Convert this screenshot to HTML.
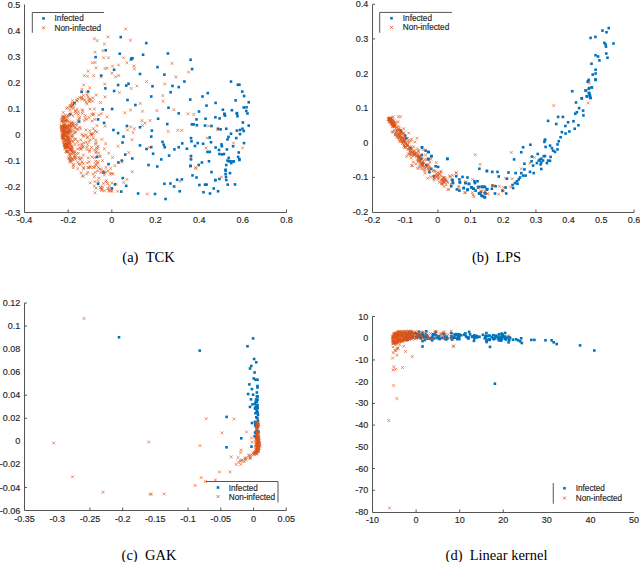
<!DOCTYPE html>
<html><head><meta charset="utf-8"><style>
html,body{margin:0;padding:0;background:#fff;width:640px;height:562px;overflow:hidden}
svg{display:block}
.s text{font-family:"Liberation Sans",sans-serif;font-size:9.0px;fill:#262626;stroke:#262626;stroke-width:0.15px}
.s text.lg{font-size:8.2px}
.c text{font-family:"Liberation Serif",serif;font-size:14.5px;fill:#000}
</style></head><body>
<svg width="640" height="562" viewBox="0 0 640 562">
<g class="s"><path d="M24.5 4.5V212.5H286.5" fill="none" stroke="#555555" stroke-width="1"/><text x="24.5" y="223" text-anchor="middle">-0.4</text><path d="M68.16666666666666 212.5V209.5" stroke="#555555" stroke-width="1"/><text x="68.16666666666666" y="223" text-anchor="middle">-0.2</text><path d="M111.83333333333333 212.5V209.5" stroke="#555555" stroke-width="1"/><text x="111.83333333333333" y="223" text-anchor="middle">0</text><text x="155.5" y="223" text-anchor="middle">0.2</text><text x="199.16666666666666" y="223" text-anchor="middle">0.4</text><text x="242.83333333333334" y="223" text-anchor="middle">0.6</text><path d="M286.5 212.5V209.5" stroke="#555555" stroke-width="1"/><text x="286.5" y="223" text-anchor="middle">0.8</text><text x="20.3" y="7.6" text-anchor="end">0.5</text><text x="20.3" y="33.6" text-anchor="end">0.4</text><text x="20.3" y="59.6" text-anchor="end">0.3</text><text x="20.3" y="85.6" text-anchor="end">0.2</text><text x="20.3" y="111.6" text-anchor="end">0.1</text><text x="20.3" y="137.6" text-anchor="end">0</text><text x="20.3" y="163.6" text-anchor="end">-0.1</text><text x="20.3" y="189.6" text-anchor="end">-0.2</text><text x="20.3" y="215.6" text-anchor="end">-0.3</text><path d="M372.5 4.5V212.5H634" fill="none" stroke="#555555" stroke-width="1"/><text x="372.5" y="223" text-anchor="middle">-0.2</text><text x="405.1875" y="223" text-anchor="middle">-0.1</text><path d="M437.875 212.5V209.5" stroke="#555555" stroke-width="1"/><text x="437.875" y="223" text-anchor="middle">0</text><path d="M470.5625 212.5V209.5" stroke="#555555" stroke-width="1"/><text x="470.5625" y="223" text-anchor="middle">0.1</text><text x="503.25" y="223" text-anchor="middle">0.2</text><path d="M535.9375 212.5V209.5" stroke="#555555" stroke-width="1"/><text x="535.9375" y="223" text-anchor="middle">0.3</text><text x="568.625" y="223" text-anchor="middle">0.4</text><text x="601.3125" y="223" text-anchor="middle">0.5</text><path d="M634.0 212.5V209.5" stroke="#555555" stroke-width="1"/><text x="634.0" y="223" text-anchor="middle">0.6</text><path d="M372.5 4.25H375.0" stroke="#555555" stroke-width="1"/><text x="368.3" y="7.35" text-anchor="end">0.4</text><path d="M372.5 38.875H375.0" stroke="#555555" stroke-width="1"/><text x="368.3" y="41.975" text-anchor="end">0.3</text><text x="368.3" y="76.6" text-anchor="end">0.2</text><text x="368.3" y="111.225" text-anchor="end">0.1</text><text x="368.3" y="145.85" text-anchor="end">0</text><path d="M372.5 177.375H375.0" stroke="#555555" stroke-width="1"/><text x="368.3" y="180.475" text-anchor="end">-0.1</text><text x="368.3" y="215.1" text-anchor="end">-0.2</text><path d="M24.5 303V510.5H286.25" fill="none" stroke="#555555" stroke-width="1"/><text x="24.5" y="521.5" text-anchor="middle">-0.35</text><text x="57.21875" y="521.5" text-anchor="middle">-0.3</text><path d="M89.9375 510.5V507.5" stroke="#555555" stroke-width="1"/><text x="89.9375" y="521.5" text-anchor="middle">-0.25</text><path d="M122.65625 510.5V507.5" stroke="#555555" stroke-width="1"/><text x="122.65625" y="521.5" text-anchor="middle">-0.2</text><text x="155.375" y="521.5" text-anchor="middle">-0.15</text><path d="M188.09375 510.5V507.5" stroke="#555555" stroke-width="1"/><text x="188.09375" y="521.5" text-anchor="middle">-0.1</text><path d="M220.8125 510.5V507.5" stroke="#555555" stroke-width="1"/><text x="220.8125" y="521.5" text-anchor="middle">-0.05</text><path d="M253.53125 510.5V507.5" stroke="#555555" stroke-width="1"/><text x="253.53125" y="521.5" text-anchor="middle">0</text><path d="M286.25 510.5V507.5" stroke="#555555" stroke-width="1"/><text x="286.25" y="521.5" text-anchor="middle">0.05</text><path d="M24.5 303.0H27.0" stroke="#555555" stroke-width="1"/><text x="20.3" y="306.1" text-anchor="end">0.12</text><path d="M24.5 326.05555555555554H27.0" stroke="#555555" stroke-width="1"/><text x="20.3" y="329.15555555555557" text-anchor="end">0.1</text><text x="20.3" y="352.2111111111111" text-anchor="end">0.08</text><text x="20.3" y="375.2666666666667" text-anchor="end">0.06</text><path d="M24.5 395.22222222222223H27.0" stroke="#555555" stroke-width="1"/><text x="20.3" y="398.32222222222225" text-anchor="end">0.04</text><path d="M24.5 418.27777777777777H27.0" stroke="#555555" stroke-width="1"/><text x="20.3" y="421.3777777777778" text-anchor="end">0.02</text><text x="20.3" y="444.4333333333334" text-anchor="end">0</text><text x="20.3" y="467.48888888888894" text-anchor="end">-0.02</text><path d="M24.5 487.44444444444446H27.0" stroke="#555555" stroke-width="1"/><text x="20.3" y="490.5444444444445" text-anchor="end">-0.04</text><text x="20.3" y="513.6" text-anchor="end">-0.06</text><path d="M372.5 316.5V512.5H634" fill="none" stroke="#555555" stroke-width="1"/><text x="372.5" y="523.2" text-anchor="middle">-10</text><path d="M416.0833333333333 512.5V509.5" stroke="#555555" stroke-width="1"/><text x="416.0833333333333" y="523.2" text-anchor="middle">0</text><path d="M459.6666666666667 512.5V509.5" stroke="#555555" stroke-width="1"/><text x="459.6666666666667" y="523.2" text-anchor="middle">10</text><path d="M503.25 512.5V509.5" stroke="#555555" stroke-width="1"/><text x="503.25" y="523.2" text-anchor="middle">20</text><text x="546.8333333333334" y="523.2" text-anchor="middle">30</text><text x="590.4166666666666" y="523.2" text-anchor="middle">40</text><text x="634.0" y="523.2" text-anchor="middle">50</text><path d="M372.5 316.5H375.0" stroke="#555555" stroke-width="1"/><text x="368.3" y="319.6" text-anchor="end">10</text><text x="368.3" y="341.32222222222225" text-anchor="end">0</text><path d="M372.5 359.94444444444446H375.0" stroke="#555555" stroke-width="1"/><text x="368.3" y="363.0444444444445" text-anchor="end">-10</text><text x="368.3" y="384.7666666666667" text-anchor="end">-20</text><path d="M372.5 403.3888888888889H375.0" stroke="#555555" stroke-width="1"/><text x="368.3" y="406.48888888888894" text-anchor="end">-30</text><path d="M372.5 425.1111111111111H375.0" stroke="#555555" stroke-width="1"/><text x="368.3" y="428.2111111111111" text-anchor="end">-40</text><text x="368.3" y="449.9333333333334" text-anchor="end">-50</text><path d="M372.5 468.55555555555554H375.0" stroke="#555555" stroke-width="1"/><text x="368.3" y="471.65555555555557" text-anchor="end">-60</text><path d="M372.5 490.27777777777777H375.0" stroke="#555555" stroke-width="1"/><text x="368.3" y="493.3777777777778" text-anchor="end">-70</text><text x="368.3" y="515.1" text-anchor="end">-80</text><g fill="#0072BD"><rect x="119.45" y="35.80" width="2.6" height="2.6"/><rect x="104.45" y="48.95" width="2.6" height="2.6"/><rect x="94.30" y="55.80" width="2.6" height="2.6"/><rect x="118.45" y="52.45" width="2.6" height="2.6"/><rect x="130.20" y="57.10" width="2.6" height="2.6"/><rect x="144.95" y="41.80" width="2.6" height="2.6"/><rect x="141.80" y="53.45" width="2.6" height="2.6"/><rect x="166.60" y="52.20" width="2.6" height="2.6"/><rect x="189.30" y="58.45" width="2.6" height="2.6"/><rect x="112.80" y="68.45" width="2.6" height="2.6"/><rect x="99.95" y="74.30" width="2.6" height="2.6"/><rect x="116.80" y="83.70" width="2.6" height="2.6"/><rect x="104.10" y="87.10" width="2.6" height="2.6"/><rect x="112.80" y="89.70" width="2.6" height="2.6"/><rect x="80.30" y="90.60" width="2.6" height="2.6"/><rect x="86.80" y="90.20" width="2.6" height="2.6"/><rect x="73.10" y="101.60" width="2.6" height="2.6"/><rect x="101.45" y="108.10" width="2.6" height="2.6"/><rect x="110.80" y="107.70" width="2.6" height="2.6"/><rect x="68.70" y="113.10" width="2.6" height="2.6"/><rect x="129.70" y="58.20" width="2.6" height="2.6"/><rect x="131.20" y="56.90" width="2.6" height="2.6"/><rect x="156.20" y="65.80" width="2.6" height="2.6"/><rect x="190.80" y="67.80" width="2.6" height="2.6"/><rect x="138.70" y="72.70" width="2.6" height="2.6"/><rect x="163.10" y="73.30" width="2.6" height="2.6"/><rect x="183.10" y="80.20" width="2.6" height="2.6"/><rect x="124.95" y="84.30" width="2.6" height="2.6"/><rect x="127.20" y="82.45" width="2.6" height="2.6"/><rect x="151.20" y="84.95" width="2.6" height="2.6"/><rect x="171.20" y="84.60" width="2.6" height="2.6"/><rect x="177.45" y="85.80" width="2.6" height="2.6"/><rect x="169.30" y="90.95" width="2.6" height="2.6"/><rect x="149.95" y="95.20" width="2.6" height="2.6"/><rect x="126.20" y="98.70" width="2.6" height="2.6"/><rect x="188.95" y="98.30" width="2.6" height="2.6"/><rect x="134.10" y="103.70" width="2.6" height="2.6"/><rect x="167.20" y="106.45" width="2.6" height="2.6"/><rect x="177.45" y="112.10" width="2.6" height="2.6"/><rect x="197.70" y="110.20" width="2.6" height="2.6"/><rect x="229.70" y="80.30" width="2.6" height="2.6"/><rect x="236.60" y="83.45" width="2.6" height="2.6"/><rect x="238.10" y="83.45" width="2.6" height="2.6"/><rect x="240.95" y="90.30" width="2.6" height="2.6"/><rect x="206.45" y="91.80" width="2.6" height="2.6"/><rect x="201.20" y="95.20" width="2.6" height="2.6"/><rect x="242.80" y="94.70" width="2.6" height="2.6"/><rect x="234.30" y="99.10" width="2.6" height="2.6"/><rect x="247.45" y="100.95" width="2.6" height="2.6"/><rect x="214.30" y="101.60" width="2.6" height="2.6"/><rect x="205.20" y="104.30" width="2.6" height="2.6"/><rect x="242.45" y="106.20" width="2.6" height="2.6"/><rect x="245.20" y="105.95" width="2.6" height="2.6"/><rect x="221.60" y="108.45" width="2.6" height="2.6"/><rect x="230.60" y="108.95" width="2.6" height="2.6"/><rect x="244.95" y="109.70" width="2.6" height="2.6"/><rect x="223.10" y="112.45" width="2.6" height="2.6"/><rect x="235.60" y="111.80" width="2.6" height="2.6"/><rect x="246.20" y="112.20" width="2.6" height="2.6"/><rect x="77.80" y="120.30" width="2.6" height="2.6"/><rect x="96.80" y="118.10" width="2.6" height="2.6"/><rect x="102.80" y="121.60" width="2.6" height="2.6"/><rect x="112.10" y="128.70" width="2.6" height="2.6"/><rect x="116.80" y="131.80" width="2.6" height="2.6"/><rect x="95.60" y="155.60" width="2.6" height="2.6"/><rect x="107.20" y="162.80" width="2.6" height="2.6"/><rect x="117.10" y="161.20" width="2.6" height="2.6"/><rect x="156.80" y="117.45" width="2.6" height="2.6"/><rect x="165.95" y="122.80" width="2.6" height="2.6"/><rect x="195.20" y="118.10" width="2.6" height="2.6"/><rect x="190.60" y="123.10" width="2.6" height="2.6"/><rect x="192.45" y="123.10" width="2.6" height="2.6"/><rect x="195.60" y="123.95" width="2.6" height="2.6"/><rect x="125.60" y="124.70" width="2.6" height="2.6"/><rect x="138.70" y="125.95" width="2.6" height="2.6"/><rect x="150.60" y="129.30" width="2.6" height="2.6"/><rect x="149.95" y="135.30" width="2.6" height="2.6"/><rect x="122.20" y="135.30" width="2.6" height="2.6"/><rect x="121.20" y="141.20" width="2.6" height="2.6"/><rect x="189.70" y="136.80" width="2.6" height="2.6"/><rect x="190.20" y="139.95" width="2.6" height="2.6"/><rect x="161.20" y="140.60" width="2.6" height="2.6"/><rect x="162.45" y="143.45" width="2.6" height="2.6"/><rect x="163.45" y="145.95" width="2.6" height="2.6"/><rect x="180.95" y="142.10" width="2.6" height="2.6"/><rect x="196.45" y="141.80" width="2.6" height="2.6"/><rect x="138.70" y="144.10" width="2.6" height="2.6"/><rect x="149.95" y="145.80" width="2.6" height="2.6"/><rect x="145.20" y="147.70" width="2.6" height="2.6"/><rect x="177.45" y="145.95" width="2.6" height="2.6"/><rect x="173.10" y="148.10" width="2.6" height="2.6"/><rect x="185.60" y="147.45" width="2.6" height="2.6"/><rect x="193.70" y="144.70" width="2.6" height="2.6"/><rect x="151.80" y="152.45" width="2.6" height="2.6"/><rect x="123.95" y="153.30" width="2.6" height="2.6"/><rect x="130.95" y="157.20" width="2.6" height="2.6"/><rect x="167.80" y="154.30" width="2.6" height="2.6"/><rect x="159.95" y="158.10" width="2.6" height="2.6"/><rect x="189.70" y="154.70" width="2.6" height="2.6"/><rect x="189.70" y="158.10" width="2.6" height="2.6"/><rect x="120.60" y="159.30" width="2.6" height="2.6"/><rect x="147.20" y="163.70" width="2.6" height="2.6"/><rect x="155.95" y="165.20" width="2.6" height="2.6"/><rect x="189.30" y="164.60" width="2.6" height="2.6"/><rect x="197.45" y="163.70" width="2.6" height="2.6"/><rect x="223.10" y="113.10" width="2.6" height="2.6"/><rect x="223.70" y="114.30" width="2.6" height="2.6"/><rect x="235.60" y="112.45" width="2.6" height="2.6"/><rect x="236.20" y="114.95" width="2.6" height="2.6"/><rect x="204.30" y="117.45" width="2.6" height="2.6"/><rect x="214.10" y="115.95" width="2.6" height="2.6"/><rect x="218.30" y="117.10" width="2.6" height="2.6"/><rect x="241.60" y="121.20" width="2.6" height="2.6"/><rect x="247.45" y="124.30" width="2.6" height="2.6"/><rect x="203.70" y="124.30" width="2.6" height="2.6"/><rect x="210.20" y="124.70" width="2.6" height="2.6"/><rect x="216.80" y="127.45" width="2.6" height="2.6"/><rect x="219.30" y="128.10" width="2.6" height="2.6"/><rect x="224.95" y="127.45" width="2.6" height="2.6"/><rect x="235.60" y="129.30" width="2.6" height="2.6"/><rect x="238.70" y="128.70" width="2.6" height="2.6"/><rect x="241.20" y="127.45" width="2.6" height="2.6"/><rect x="242.45" y="129.70" width="2.6" height="2.6"/><rect x="229.70" y="132.45" width="2.6" height="2.6"/><rect x="238.70" y="132.80" width="2.6" height="2.6"/><rect x="227.20" y="135.60" width="2.6" height="2.6"/><rect x="226.20" y="138.10" width="2.6" height="2.6"/><rect x="234.95" y="136.80" width="2.6" height="2.6"/><rect x="208.45" y="136.20" width="2.6" height="2.6"/><rect x="209.70" y="140.95" width="2.6" height="2.6"/><rect x="201.80" y="142.45" width="2.6" height="2.6"/><rect x="220.20" y="143.10" width="2.6" height="2.6"/><rect x="220.60" y="144.95" width="2.6" height="2.6"/><rect x="242.70" y="141.80" width="2.6" height="2.6"/><rect x="231.80" y="144.95" width="2.6" height="2.6"/><rect x="214.30" y="146.20" width="2.6" height="2.6"/><rect x="225.60" y="148.10" width="2.6" height="2.6"/><rect x="217.70" y="148.70" width="2.6" height="2.6"/><rect x="206.20" y="150.60" width="2.6" height="2.6"/><rect x="208.45" y="150.60" width="2.6" height="2.6"/><rect x="237.45" y="151.20" width="2.6" height="2.6"/><rect x="218.10" y="152.70" width="2.6" height="2.6"/><rect x="220.60" y="153.10" width="2.6" height="2.6"/><rect x="222.70" y="152.70" width="2.6" height="2.6"/><rect x="236.80" y="155.60" width="2.6" height="2.6"/><rect x="238.10" y="157.80" width="2.6" height="2.6"/><rect x="227.45" y="156.60" width="2.6" height="2.6"/><rect x="226.20" y="159.30" width="2.6" height="2.6"/><rect x="227.45" y="159.95" width="2.6" height="2.6"/><rect x="232.20" y="159.95" width="2.6" height="2.6"/><rect x="229.95" y="161.80" width="2.6" height="2.6"/><rect x="207.70" y="159.95" width="2.6" height="2.6"/><rect x="200.60" y="161.20" width="2.6" height="2.6"/><rect x="224.95" y="163.70" width="2.6" height="2.6"/><rect x="224.30" y="168.45" width="2.6" height="2.6"/><rect x="102.20" y="171.20" width="2.6" height="2.6"/><rect x="121.45" y="176.80" width="2.6" height="2.6"/><rect x="96.80" y="182.45" width="2.6" height="2.6"/><rect x="113.70" y="183.10" width="2.6" height="2.6"/><rect x="124.95" y="184.60" width="2.6" height="2.6"/><rect x="110.60" y="187.10" width="2.6" height="2.6"/><rect x="119.95" y="190.30" width="2.6" height="2.6"/><rect x="136.80" y="192.20" width="2.6" height="2.6"/><rect x="189.10" y="164.70" width="2.6" height="2.6"/><rect x="210.20" y="170.80" width="2.6" height="2.6"/><rect x="191.20" y="174.10" width="2.6" height="2.6"/><rect x="195.20" y="176.20" width="2.6" height="2.6"/><rect x="175.80" y="178.45" width="2.6" height="2.6"/><rect x="180.60" y="178.10" width="2.6" height="2.6"/><rect x="163.10" y="182.45" width="2.6" height="2.6"/><rect x="169.10" y="182.20" width="2.6" height="2.6"/><rect x="172.80" y="185.20" width="2.6" height="2.6"/><rect x="178.45" y="189.95" width="2.6" height="2.6"/><rect x="153.70" y="192.70" width="2.6" height="2.6"/><rect x="164.30" y="197.70" width="2.6" height="2.6"/><rect x="198.10" y="183.70" width="2.6" height="2.6"/><rect x="203.70" y="183.30" width="2.6" height="2.6"/><rect x="205.30" y="183.30" width="2.6" height="2.6"/><rect x="214.10" y="178.95" width="2.6" height="2.6"/><rect x="218.10" y="177.70" width="2.6" height="2.6"/><rect x="202.20" y="190.95" width="2.6" height="2.6"/><rect x="208.70" y="192.20" width="2.6" height="2.6"/><rect x="212.45" y="187.20" width="2.6" height="2.6"/><rect x="216.80" y="189.95" width="2.6" height="2.6"/><rect x="229.30" y="159.95" width="2.6" height="2.6"/><rect x="232.45" y="160.20" width="2.6" height="2.6"/><rect x="238.10" y="158.70" width="2.6" height="2.6"/><rect x="224.30" y="169.30" width="2.6" height="2.6"/><rect x="228.70" y="171.80" width="2.6" height="2.6"/><rect x="224.30" y="172.70" width="2.6" height="2.6"/><rect x="224.70" y="175.60" width="2.6" height="2.6"/><rect x="224.95" y="178.70" width="2.6" height="2.6"/><rect x="213.95" y="178.70" width="2.6" height="2.6"/><rect x="226.45" y="183.30" width="2.6" height="2.6"/><rect x="233.70" y="183.10" width="2.6" height="2.6"/></g><path fill="none" stroke="#D95319" stroke-width="0.62" d="M72.22 150.30L75.12 153.20M72.22 153.20L75.12 150.30M64.91 134.41L67.81 137.31M64.91 137.31L67.81 134.41M60.25 119.35L63.15 122.25M60.25 122.25L63.15 119.35M67.86 120.26L70.76 123.16M67.86 123.16L70.76 120.26M61.63 136.14L64.53 139.04M61.63 139.04L64.53 136.14M66.68 140.65L69.58 143.55M66.68 143.55L69.58 140.65M60.98 133.62L63.88 136.52M60.98 136.52L63.88 133.62M63.71 113.97L66.61 116.87M63.71 116.87L66.61 113.97M74.20 137.72L77.10 140.62M74.20 140.62L77.10 137.72M61.69 136.19L64.59 139.09M61.69 139.09L64.59 136.19M65.05 149.58L67.95 152.48M65.05 152.48L67.95 149.58M64.80 145.37L67.70 148.27M64.80 148.27L67.70 145.37M66.55 136.39L69.45 139.29M66.55 139.29L69.45 136.39M62.83 142.60L65.73 145.50M62.83 145.50L65.73 142.60M62.51 119.48L65.41 122.38M62.51 122.38L65.41 119.48M64.69 134.55L67.59 137.45M64.69 137.45L67.59 134.55M66.90 136.36L69.80 139.26M66.90 139.26L69.80 136.36M61.66 132.88L64.56 135.78M61.66 135.78L64.56 132.88M68.01 142.22L70.91 145.12M68.01 145.12L70.91 142.22M62.81 128.33L65.71 131.23M62.81 131.23L65.71 128.33M68.48 159.30L71.38 162.20M68.48 162.20L71.38 159.30M65.39 142.03L68.29 144.93M65.39 144.93L68.29 142.03M68.76 129.90L71.66 132.80M68.76 132.80L71.66 129.90M65.20 146.09L68.10 148.99M65.20 148.99L68.10 146.09M69.37 142.88L72.27 145.78M69.37 145.78L72.27 142.88M66.92 127.86L69.82 130.76M66.92 130.76L69.82 127.86M72.15 152.15L75.05 155.05M72.15 155.05L75.05 152.15M60.71 116.22L63.61 119.12M60.71 119.12L63.61 116.22M63.10 143.02L66.00 145.92M63.10 145.92L66.00 143.02M66.48 137.50L69.38 140.40M66.48 140.40L69.38 137.50M67.92 141.18L70.82 144.08M67.92 144.08L70.82 141.18M67.90 127.89L70.80 130.79M67.90 130.79L70.80 127.89M63.75 123.69L66.65 126.59M63.75 126.59L66.65 123.69M61.79 111.01L64.69 113.91M61.79 113.91L64.69 111.01M60.63 120.67L63.53 123.57M60.63 123.57L63.53 120.67M60.36 130.37L63.26 133.27M60.36 133.27L63.26 130.37M67.67 153.07L70.57 155.97M67.67 155.97L70.57 153.07M65.26 150.89L68.16 153.79M65.26 153.79L68.16 150.89M62.04 127.32L64.94 130.22M62.04 130.22L64.94 127.32M61.44 133.03L64.34 135.93M61.44 135.93L64.34 133.03M62.86 117.49L65.76 120.39M62.86 120.39L65.76 117.49M73.37 126.28L76.27 129.18M73.37 129.18L76.27 126.28M65.70 130.78L68.60 133.68M65.70 133.68L68.60 130.78M60.73 126.78L63.63 129.68M60.73 129.68L63.63 126.78M64.62 149.81L67.52 152.71M64.62 152.71L67.52 149.81M62.72 133.18L65.62 136.08M62.72 136.08L65.62 133.18M69.92 149.67L72.82 152.57M69.92 152.57L72.82 149.67M67.52 139.26L70.42 142.16M67.52 142.16L70.42 139.26M62.07 120.86L64.97 123.76M62.07 123.76L64.97 120.86M71.25 158.19L74.15 161.09M71.25 161.09L74.15 158.19M61.34 125.70L64.24 128.60M61.34 128.60L64.24 125.70M60.36 118.58L63.26 121.48M60.36 121.48L63.26 118.58M63.79 126.10L66.69 129.00M63.79 129.00L66.69 126.10M62.35 115.91L65.25 118.81M62.35 118.81L65.25 115.91M63.62 122.60L66.52 125.50M63.62 125.50L66.52 122.60M62.86 142.80L65.76 145.70M62.86 145.70L65.76 142.80M68.32 141.16L71.22 144.06M68.32 144.06L71.22 141.16M71.08 148.49L73.98 151.39M71.08 151.39L73.98 148.49M71.31 140.53L74.21 143.43M71.31 143.43L74.21 140.53M71.08 132.72L73.98 135.62M71.08 135.62L73.98 132.72M62.38 131.03L65.28 133.93M62.38 133.93L65.28 131.03M60.95 135.76L63.85 138.66M60.95 138.66L63.85 135.76M64.82 133.90L67.72 136.80M64.82 136.80L67.72 133.90M68.21 147.61L71.11 150.51M68.21 150.51L71.11 147.61M62.05 130.79L64.95 133.69M62.05 133.69L64.95 130.79M67.68 142.11L70.58 145.01M67.68 145.01L70.58 142.11M65.00 138.66L67.90 141.56M65.00 141.56L67.90 138.66M66.13 130.13L69.03 133.03M66.13 133.03L69.03 130.13M65.54 127.11L68.44 130.01M65.54 130.01L68.44 127.11M63.80 146.26L66.70 149.16M63.80 149.16L66.70 146.26M61.52 126.17L64.42 129.07M61.52 129.07L64.42 126.17M73.65 155.17L76.55 158.07M73.65 158.07L76.55 155.17M59.91 124.66L62.81 127.56M59.91 127.56L62.81 124.66M66.90 114.68L69.80 117.58M66.90 117.58L69.80 114.68M61.01 136.00L63.91 138.90M61.01 138.90L63.91 136.00M69.93 146.09L72.83 148.99M69.93 148.99L72.83 146.09M69.81 144.40L72.71 147.30M69.81 147.30L72.71 144.40M66.07 126.44L68.97 129.34M66.07 129.34L68.97 126.44M76.24 140.06L79.14 142.96M76.24 142.96L79.14 140.06M67.45 138.19L70.35 141.09M67.45 141.09L70.35 138.19M68.79 136.70L71.69 139.60M68.79 139.60L71.69 136.70M64.40 120.10L67.30 123.00M64.40 123.00L67.30 120.10M66.77 125.60L69.67 128.50M66.77 128.50L69.67 125.60M64.07 143.76L66.97 146.66M64.07 146.66L66.97 143.76M70.36 159.55L73.26 162.45M70.36 162.45L73.26 159.55M69.87 124.63L72.77 127.53M69.87 127.53L72.77 124.63M71.82 122.16L74.72 125.06M71.82 125.06L74.72 122.16M66.26 133.03L69.16 135.93M66.26 135.93L69.16 133.03M61.33 133.52L64.23 136.42M61.33 136.42L64.23 133.52M61.95 136.16L64.85 139.06M61.95 139.06L64.85 136.16M76.08 147.61L78.98 150.51M76.08 150.51L78.98 147.61M61.29 126.34L64.19 129.24M61.29 129.24L64.19 126.34M77.97 157.21L80.87 160.11M77.97 160.11L80.87 157.21M66.43 129.13L69.33 132.03M66.43 132.03L69.33 129.13M63.22 124.91L66.12 127.81M63.22 127.81L66.12 124.91M69.15 138.89L72.05 141.79M69.15 141.79L72.05 138.89M61.26 125.76L64.16 128.66M61.26 128.66L64.16 125.76M68.62 148.80L71.52 151.70M68.62 151.70L71.52 148.80M66.36 129.18L69.26 132.08M66.36 132.08L69.26 129.18M69.72 121.54L72.62 124.44M69.72 124.44L72.62 121.54M61.45 135.56L64.35 138.46M61.45 138.46L64.35 135.56M65.66 137.07L68.56 139.97M65.66 139.97L68.56 137.07M67.39 156.19L70.29 159.09M67.39 159.09L70.29 156.19M63.33 128.77L66.23 131.67M63.33 131.67L66.23 128.77M69.05 122.22L71.95 125.12M69.05 125.12L71.95 122.22M64.64 144.42L67.54 147.32M64.64 147.32L67.54 144.42M69.11 148.20L72.01 151.10M69.11 151.10L72.01 148.20M61.86 137.23L64.76 140.13M61.86 140.13L64.76 137.23M68.76 154.36L71.66 157.26M68.76 157.26L71.66 154.36M64.27 137.57L67.17 140.47M64.27 140.47L67.17 137.57M60.53 128.78L63.43 131.68M60.53 131.68L63.43 128.78M63.35 115.98L66.25 118.88M63.35 118.88L66.25 115.98M62.06 123.08L64.96 125.98M62.06 125.98L64.96 123.08M67.17 142.65L70.07 145.55M67.17 145.55L70.07 142.65M70.96 120.46L73.86 123.36M70.96 123.36L73.86 120.46M64.39 125.86L67.29 128.76M64.39 128.76L67.29 125.86M64.15 145.92L67.05 148.82M64.15 148.82L67.05 145.92M70.74 135.79L73.64 138.69M70.74 138.69L73.64 135.79M65.18 145.12L68.08 148.02M65.18 148.02L68.08 145.12M65.98 123.84L68.88 126.74M65.98 126.74L68.88 123.84M66.14 136.07L69.04 138.97M66.14 138.97L69.04 136.07M61.41 125.20L64.31 128.10M61.41 128.10L64.31 125.20M64.22 142.47L67.12 145.37M64.22 145.37L67.12 142.47M67.56 146.52L70.46 149.42M67.56 149.42L70.46 146.52M65.79 146.37L68.69 149.27M65.79 149.27L68.69 146.37M69.73 129.66L72.63 132.56M69.73 132.56L72.63 129.66M61.49 134.51L64.39 137.41M61.49 137.41L64.39 134.51M62.44 130.82L65.34 133.72M62.44 133.72L65.34 130.82M73.23 153.82L76.13 156.72M73.23 156.72L76.13 153.82M63.20 142.87L66.10 145.77M63.20 145.77L66.10 142.87M63.63 147.10L66.53 150.00M63.63 150.00L66.53 147.10M63.57 139.43L66.47 142.33M63.57 142.33L66.47 139.43M69.81 134.71L72.71 137.61M69.81 137.61L72.71 134.71M73.96 156.37L76.86 159.27M73.96 159.27L76.86 156.37M70.96 157.42L73.86 160.32M70.96 160.32L73.86 157.42M60.13 127.69L63.03 130.59M60.13 130.59L63.03 127.69M69.96 148.35L72.86 151.25M69.96 151.25L72.86 148.35M63.39 144.67L66.29 147.57M63.39 147.57L66.29 144.67M65.24 134.02L68.14 136.92M65.24 136.92L68.14 134.02M65.43 132.36L68.33 135.26M65.43 135.26L68.33 132.36M60.52 125.45L63.42 128.35M60.52 128.35L63.42 125.45M73.53 137.87L76.43 140.77M73.53 140.77L76.43 137.87M63.15 115.74L66.05 118.64M63.15 118.64L66.05 115.74M62.14 132.36L65.04 135.26M62.14 135.26L65.04 132.36M71.42 151.15L74.32 154.05M71.42 154.05L74.32 151.15M63.47 131.51L66.37 134.41M63.47 134.41L66.37 131.51M60.91 115.83L63.81 118.73M60.91 118.73L63.81 115.83M65.49 149.76L68.39 152.66M65.49 152.66L68.39 149.76M66.04 142.70L68.94 145.60M66.04 145.60L68.94 142.70M67.15 138.71L70.05 141.61M67.15 141.61L70.05 138.71M65.02 132.07L67.92 134.97M65.02 134.97L67.92 132.07M65.30 118.31L68.20 121.21M65.30 121.21L68.20 118.31M61.82 128.84L64.72 131.74M61.82 131.74L64.72 128.84M66.89 144.40L69.79 147.30M66.89 147.30L69.79 144.40M70.42 156.56L73.32 159.46M70.42 159.46L73.32 156.56M63.37 126.70L66.27 129.60M63.37 129.60L66.27 126.70M69.84 147.61L72.74 150.51M69.84 150.51L72.74 147.61M59.76 125.22L62.66 128.12M59.76 128.12L62.66 125.22M60.98 136.19L63.88 139.09M60.98 139.09L63.88 136.19M63.16 138.58L66.06 141.48M63.16 141.48L66.06 138.58M67.41 131.97L70.31 134.87M67.41 134.87L70.31 131.97M64.44 141.95L67.34 144.85M64.44 144.85L67.34 141.95M77.42 155.84L80.32 158.74M77.42 158.74L80.32 155.84M64.41 134.65L67.31 137.55M64.41 137.55L67.31 134.65M63.60 146.19L66.50 149.09M63.60 149.09L66.50 146.19M63.30 128.55L66.20 131.45M63.30 131.45L66.20 128.55M62.96 131.04L65.86 133.94M62.96 133.94L65.86 131.04M65.49 138.51L68.39 141.41M65.49 141.41L68.39 138.51M67.00 145.78L69.90 148.68M67.00 148.68L69.90 145.78M64.45 143.02L67.35 145.92M64.45 145.92L67.35 143.02M63.19 139.19L66.09 142.09M63.19 142.09L66.09 139.19M61.66 136.34L64.56 139.24M61.66 139.24L64.56 136.34M70.59 122.22L73.49 125.12M70.59 125.12L73.49 122.22M73.52 142.96L76.42 145.86M73.52 145.86L76.42 142.96M70.41 145.17L73.31 148.07M70.41 148.07L73.31 145.17M63.49 130.53L66.39 133.43M63.49 133.43L66.39 130.53M61.20 126.60L64.10 129.50M61.20 129.50L64.10 126.60M68.13 129.32L71.03 132.22M68.13 132.22L71.03 129.32M62.62 133.47L65.52 136.37M62.62 136.37L65.52 133.47M69.03 156.55L71.93 159.45M69.03 159.45L71.93 156.55M62.32 118.09L65.22 120.99M62.32 120.99L65.22 118.09M66.85 142.04L69.75 144.94M66.85 144.94L69.75 142.04M62.66 124.18L65.56 127.08M62.66 127.08L65.56 124.18M61.82 133.41L64.72 136.31M61.82 136.31L64.72 133.41M64.29 125.37L67.19 128.27M64.29 128.27L67.19 125.37M61.01 129.34L63.91 132.24M61.01 132.24L63.91 129.34M62.52 129.20L65.42 132.10M62.52 132.10L65.42 129.20M64.67 140.66L67.57 143.56M64.67 143.56L67.57 140.66M66.32 139.78L69.22 142.68M66.32 142.68L69.22 139.78M64.53 119.00L67.43 121.90M64.53 121.90L67.43 119.00M61.30 133.71L64.20 136.61M61.30 136.61L64.20 133.71M61.35 118.47L64.25 121.37M61.35 121.37L64.25 118.47M64.49 125.26L67.39 128.16M64.49 128.16L67.39 125.26M67.96 125.36L70.86 128.26M67.96 128.26L70.86 125.36M67.15 134.66L70.05 137.56M67.15 137.56L70.05 134.66M60.16 124.35L63.06 127.25M60.16 127.25L63.06 124.35M63.77 119.35L66.67 122.25M63.77 122.25L66.67 119.35M74.03 157.78L76.93 160.68M74.03 160.68L76.93 157.78M68.13 130.59L71.03 133.49M68.13 133.49L71.03 130.59M61.76 138.33L64.66 141.23M61.76 141.23L64.66 138.33M65.46 131.60L68.36 134.50M65.46 134.50L68.36 131.60M68.54 152.22L71.44 155.12M68.54 155.12L71.44 152.22M63.59 126.01L66.49 128.91M63.59 128.91L66.49 126.01M66.22 119.57L69.12 122.47M66.22 122.47L69.12 119.57M67.82 132.06L70.72 134.96M67.82 134.96L70.72 132.06M73.61 150.70L76.51 153.60M73.61 153.60L76.51 150.70M65.88 149.94L68.78 152.84M65.88 152.84L68.78 149.94M88.36 148.79L91.26 151.69M88.36 151.69L91.26 148.79M83.35 98.61L86.25 101.51M83.35 101.51L86.25 98.61M75.80 127.30L78.70 130.20M75.80 130.20L78.70 127.30M109.94 188.73L112.84 191.63M109.94 191.63L112.84 188.73M90.67 119.50L93.57 122.40M90.67 122.40L93.57 119.50M94.67 186.62L97.57 189.52M94.67 189.52L97.57 186.62M92.95 175.22L95.85 178.12M92.95 178.12L95.85 175.22M92.01 136.72L94.91 139.62M92.01 139.62L94.91 136.72M100.14 187.76L103.04 190.66M100.14 190.66L103.04 187.76M65.10 135.54L68.00 138.44M65.10 138.44L68.00 135.54M62.87 125.12L65.77 128.02M62.87 128.02L65.77 125.12M76.99 151.82L79.89 154.72M76.99 154.72L79.89 151.82M71.93 166.26L74.83 169.16M71.93 169.16L74.83 166.26M74.18 111.96L77.08 114.86M74.18 114.86L77.08 111.96M86.69 95.59L89.59 98.49M86.69 98.49L89.59 95.59M70.62 146.16L73.52 149.06M70.62 149.06L73.52 146.16M71.21 150.37L74.11 153.27M71.21 153.27L74.11 150.37M94.25 159.85L97.15 162.75M94.25 162.75L97.15 159.85M109.94 171.99L112.84 174.89M109.94 174.89L112.84 171.99M78.04 146.45L80.94 149.35M78.04 149.35L80.94 146.45M68.31 130.73L71.21 133.63M68.31 133.63L71.21 130.73M88.67 166.03L91.57 168.93M88.67 168.93L91.57 166.03M107.64 187.15L110.54 190.05M107.64 190.05L110.54 187.15M72.15 106.80L75.05 109.70M72.15 109.70L75.05 106.80M75.00 123.74L77.90 126.64M75.00 126.64L77.90 123.74M76.37 128.16L79.27 131.06M76.37 131.06L79.27 128.16M85.75 93.63L88.65 96.53M85.75 96.53L88.65 93.63M71.44 123.12L74.34 126.02M71.44 126.02L74.34 123.12M96.16 169.51L99.06 172.41M96.16 172.41L99.06 169.51M82.44 141.30L85.34 144.20M82.44 144.20L85.34 141.30M65.72 130.17L68.62 133.07M65.72 133.07L68.62 130.17M82.07 93.93L84.97 96.83M82.07 96.83L84.97 93.93M102.96 189.29L105.86 192.19M102.96 192.19L105.86 189.29M84.80 133.22L87.70 136.12M84.80 136.12L87.70 133.22M82.02 153.69L84.92 156.59M82.02 156.59L84.92 153.69M60.12 128.41L63.02 131.31M60.12 131.31L63.02 128.41M73.12 131.30L76.02 134.20M73.12 134.20L76.02 131.30M89.18 132.86L92.08 135.76M89.18 135.76L92.08 132.86M88.04 150.24L90.94 153.14M88.04 153.14L90.94 150.24M92.02 165.89L94.92 168.79M92.02 168.79L94.92 165.89M86.70 156.48L89.60 159.38M86.70 159.38L89.60 156.48M80.52 133.03L83.42 135.93M80.52 135.93L83.42 133.03M97.69 155.02L100.59 157.92M97.69 157.92L100.59 155.02M102.21 169.45L105.11 172.35M102.21 172.35L105.11 169.45M99.73 168.00L102.63 170.90M99.73 170.90L102.63 168.00M75.19 152.28L78.09 155.18M75.19 155.18L78.09 152.28M82.95 119.21L85.85 122.11M82.95 122.11L85.85 119.21M80.67 97.95L83.57 100.85M80.67 100.85L83.57 97.95M71.06 134.54L73.96 137.44M71.06 137.44L73.96 134.54M67.41 157.26L70.31 160.16M67.41 160.16L70.31 157.26M94.06 142.74L96.96 145.64M94.06 145.64L96.96 142.74M80.57 160.52L83.47 163.42M80.57 163.42L83.47 160.52M87.65 160.37L90.55 163.27M87.65 163.27L90.55 160.37M66.35 113.81L69.25 116.71M66.35 116.71L69.25 113.81M86.18 143.17L89.08 146.07M86.18 146.07L89.08 143.17M74.02 109.90L76.92 112.80M74.02 112.80L76.92 109.90M85.19 172.61L88.09 175.51M85.19 175.51L88.09 172.61M77.98 116.07L80.88 118.97M77.98 118.97L80.88 116.07M76.86 110.27L79.76 113.17M76.86 113.17L79.76 110.27M65.79 125.53L68.69 128.43M65.79 128.43L68.69 125.53M106.36 187.04L109.26 189.94M106.36 189.94L109.26 187.04M91.31 96.51L94.21 99.41M91.31 99.41L94.21 96.51M72.57 124.25L75.47 127.15M72.57 127.15L75.47 124.25M98.27 167.42L101.17 170.32M98.27 170.32L101.17 167.42M80.83 111.97L83.73 114.87M80.83 114.87L83.73 111.97M81.28 109.62L84.18 112.52M81.28 112.52L84.18 109.62M101.85 182.13L104.75 185.03M101.85 185.03L104.75 182.13M76.39 118.96L79.29 121.86M76.39 121.86L79.29 118.96M65.09 107.00L67.99 109.90M65.09 109.90L67.99 107.00M84.56 128.58L87.46 131.48M84.56 131.48L87.46 128.58M83.62 116.88L86.52 119.78M83.62 119.78L86.52 116.88M78.87 163.24L81.77 166.14M78.87 166.14L81.77 163.24M71.32 103.87L74.22 106.77M71.32 106.77L74.22 103.87M94.43 151.51L97.33 154.41M94.43 154.41L97.33 151.51M61.39 114.56L64.29 117.46M61.39 117.46L64.29 114.56M96.26 161.83L99.16 164.73M96.26 164.73L99.16 161.83M81.83 174.82L84.73 177.72M81.83 177.72L84.73 174.82M72.43 102.79L75.33 105.69M72.43 105.69L75.33 102.79M64.65 130.21L67.55 133.11M64.65 133.11L67.55 130.21M87.56 116.03L90.46 118.93M87.56 118.93L90.46 116.03M79.31 138.42L82.21 141.32M79.31 141.32L82.21 138.42M83.85 114.10L86.75 117.00M83.85 117.00L86.75 114.10M78.43 125.57L81.33 128.47M78.43 128.47L81.33 125.57M104.25 170.90L107.15 173.80M104.25 173.80L107.15 170.90M70.94 124.55L73.84 127.45M70.94 127.45L73.84 124.55M94.91 149.83L97.81 152.73M94.91 152.73L97.81 149.83M89.84 132.34L92.74 135.24M89.84 135.24L92.74 132.34M76.26 167.13L79.16 170.03M76.26 170.03L79.16 167.13M68.61 158.04L71.51 160.94M68.61 160.94L71.51 158.04M63.53 130.36L66.43 133.26M63.53 133.26L66.43 130.36M88.96 138.45L91.86 141.35M88.96 141.35L91.86 138.45M90.51 155.39L93.41 158.29M90.51 158.29L93.41 155.39M96.49 160.17L99.39 163.07M96.49 163.07L99.39 160.17M78.78 157.86L81.68 160.76M78.78 160.76L81.68 157.86M98.85 154.76L101.75 157.66M98.85 157.66L101.75 154.76M73.13 155.79L76.03 158.69M73.13 158.69L76.03 155.79M88.06 99.39L90.96 102.29M88.06 102.29L90.96 99.39M79.06 127.46L81.96 130.36M79.06 130.36L81.96 127.46M79.50 147.89L82.40 150.79M79.50 150.79L82.40 147.89M75.52 99.45L78.42 102.35M75.52 102.35L78.42 99.45M90.24 112.89L93.14 115.79M90.24 115.79L93.14 112.89M81.91 134.69L84.81 137.59M81.91 137.59L84.81 134.69M94.08 162.76L96.98 165.66M94.08 165.66L96.98 162.76M94.83 163.50L97.73 166.40M94.83 166.40L97.73 163.50M93.33 117.95L96.23 120.85M93.33 120.85L96.23 117.95M80.66 108.20L83.56 111.10M80.66 111.10L83.56 108.20M91.68 172.42L94.58 175.32M91.68 175.32L94.58 172.42M93.58 129.46L96.48 132.36M93.58 132.36L96.48 129.46M81.88 97.44L84.78 100.34M81.88 100.34L84.78 97.44M70.36 105.99L73.26 108.89M70.36 108.89L73.26 105.99M79.73 96.87L82.63 99.77M79.73 99.77L82.63 96.87M62.85 123.93L65.75 126.83M62.85 126.83L65.75 123.93M102.02 170.62L104.92 173.52M102.02 173.52L104.92 170.62M77.68 117.35L80.58 120.25M77.68 120.25L80.58 117.35M69.55 125.57L72.45 128.47M69.55 128.47L72.45 125.57M106.57 169.56L109.47 172.46M106.57 172.46L109.47 169.56M66.75 150.21L69.65 153.11M66.75 153.11L69.65 150.21M80.39 156.85L83.29 159.75M80.39 159.75L83.29 156.85M108.52 189.39L111.42 192.29M108.52 192.29L111.42 189.39M85.83 161.57L88.73 164.47M85.83 164.47L88.73 161.57M68.64 108.78L71.54 111.68M68.64 111.68L71.54 108.78M71.10 103.00L74.00 105.90M71.10 105.90L74.00 103.00M87.52 97.78L90.42 100.68M87.52 100.68L90.42 97.78M68.06 123.97L70.96 126.87M68.06 126.87L70.96 123.97M69.34 127.75L72.24 130.65M69.34 130.65L72.24 127.75M87.17 166.16L90.07 169.06M87.17 169.06L90.07 166.16M66.40 144.58L69.30 147.48M66.40 147.48L69.30 144.58M88.06 100.23L90.96 103.13M88.06 103.13L90.96 100.23M106.28 182.10L109.18 185.00M106.28 185.00L109.18 182.10M108.82 172.67L111.72 175.57M108.82 175.57L111.72 172.67M79.57 171.28L82.47 174.18M79.57 174.18L82.47 171.28M80.56 144.35L83.46 147.25M80.56 147.25L83.46 144.35M110.28 189.82L113.18 192.72M110.28 192.72L113.18 189.82M82.26 165.97L85.16 168.87M82.26 168.87L85.16 165.97M94.37 138.61L97.27 141.51M94.37 141.51L97.27 138.61M67.10 145.17L70.00 148.07M67.10 148.07L70.00 145.17M75.62 107.94L78.52 110.84M75.62 110.84L78.52 107.94M71.78 164.16L74.68 167.06M71.78 167.06L74.68 164.16M68.67 103.92L71.57 106.82M68.67 106.82L71.57 103.92M64.43 144.61L67.33 147.51M64.43 147.51L67.33 144.61M84.68 100.61L87.58 103.51M84.68 103.51L87.58 100.61M88.27 129.26L91.17 132.16M88.27 132.16L91.17 129.26M77.72 162.45L80.62 165.35M77.72 165.35L80.62 162.45M96.83 180.00L99.73 182.90M96.83 182.90L99.73 180.00M93.40 180.15L96.30 183.05M93.40 183.05L96.30 180.15M94.87 146.36L97.77 149.26M94.87 149.26L97.77 146.36M99.36 170.97L102.26 173.87M99.36 173.87L102.26 170.97M111.47 172.51L114.37 175.41M111.47 175.41L114.37 172.51M65.57 118.44L68.47 121.34M65.57 121.34L68.47 118.44M96.90 165.99L99.80 168.89M96.90 168.89L99.80 165.99M77.19 143.44L80.09 146.34M77.19 146.34L80.09 143.44M89.98 132.71L92.88 135.61M89.98 135.61L92.88 132.71M93.97 170.78L96.87 173.68M93.97 173.68L96.87 170.78M88.83 97.44L91.73 100.34M88.83 100.34L91.73 97.44M69.49 111.96L72.39 114.86M69.49 114.86L72.39 111.96M68.79 160.61L71.69 163.51M68.79 163.51L71.69 160.61M68.89 105.19L71.79 108.09M68.89 108.09L71.79 105.19M104.58 166.00L107.48 168.90M104.58 168.90L107.48 166.00M80.88 146.22L83.78 149.12M80.88 149.12L83.78 146.22M79.41 147.03L82.31 149.93M79.41 149.93L82.31 147.03M89.98 146.13L92.88 149.03M89.98 149.03L92.88 146.13M99.15 186.03L102.05 188.93M99.15 188.93L102.05 186.03M68.15 123.40L71.05 126.30M68.15 126.30L71.05 123.40M80.54 142.66L83.44 145.56M80.54 145.56L83.44 142.66M96.24 146.90L99.14 149.80M96.24 149.80L99.14 146.90M73.91 109.36L76.81 112.26M73.91 112.26L76.81 109.36M88.80 164.96L91.70 167.86M88.80 167.86L91.70 164.96M72.09 129.28L74.99 132.18M72.09 132.18L74.99 129.28M107.92 184.39L110.82 187.29M107.92 187.29L110.82 184.39M104.80 180.73L107.70 183.63M104.80 183.63L107.70 180.73M74.39 130.74L77.29 133.64M74.39 133.64L77.29 130.74M86.52 170.75L89.42 173.65M86.52 173.65L89.42 170.75M86.52 166.24L89.42 169.14M86.52 169.14L89.42 166.24M73.62 126.19L76.52 129.09M73.62 129.09L76.52 126.19M70.05 104.85L72.95 107.75M70.05 107.75L72.95 104.85M93.56 165.28L96.46 168.18M93.56 168.18L96.46 165.28M86.27 135.60L89.17 138.50M86.27 138.50L89.17 135.60M84.79 140.67L87.69 143.57M84.79 143.57L87.69 140.67M94.68 141.21L97.58 144.11M94.68 144.11L97.58 141.21M72.22 163.02L75.12 165.92M72.22 165.92L75.12 163.02M78.37 96.09L81.27 98.99M78.37 98.99L81.27 96.09M98.84 185.91L101.74 188.81M98.84 188.81L101.74 185.91M80.98 174.48L83.88 177.38M80.98 177.38L83.88 174.48M91.84 127.18L94.74 130.08M91.84 130.08L94.74 127.18M82.20 134.25L85.10 137.15M82.20 137.15L85.10 134.25M87.57 140.08L90.47 142.98M87.57 142.98L90.47 140.08M97.44 176.76L100.34 179.66M97.44 179.66L100.34 176.76M73.17 102.01L76.07 104.91M73.17 104.91L76.07 102.01M75.33 122.09L78.23 124.99M75.33 124.99L78.23 122.09M88.83 181.34L91.73 184.24M88.83 184.24L91.73 181.34M71.13 103.82L74.03 106.72M71.13 106.72L74.03 103.82M76.91 113.07L79.81 115.97M76.91 115.97L79.81 113.07M90.32 133.96L93.22 136.86M90.32 136.86L93.22 133.96M82.15 167.24L85.05 170.14M82.15 170.14L85.05 167.24M61.81 140.69L64.71 143.59M61.81 143.59L64.71 140.69M107.24 189.48L110.14 192.38M107.24 192.38L110.14 189.48M85.70 136.25L88.60 139.15M85.70 139.15L88.60 136.25M81.77 162.06L84.67 164.96M81.77 164.96L84.67 162.06M66.46 106.18L69.36 109.08M66.46 109.08L69.36 106.18M97.22 151.60L100.12 154.50M97.22 154.50L100.12 151.60M81.97 145.23L84.87 148.13M81.97 148.13L84.87 145.23M76.37 161.01L79.27 163.91M76.37 163.91L79.27 161.01M71.46 114.35L74.36 117.25M71.46 117.25L74.36 114.35M71.08 139.19L73.98 142.09M71.08 142.09L73.98 139.19M69.82 152.31L72.72 155.21M69.82 155.21L72.72 152.31M75.29 99.19L78.19 102.09M75.29 102.09L78.19 99.19M93.34 156.12L96.24 159.02M93.34 159.02L96.24 156.12M62.96 125.56L65.86 128.46M62.96 128.46L65.86 125.56M85.56 145.82L88.46 148.72M85.56 148.72L88.46 145.82M85.45 148.17L88.35 151.07M85.45 151.07L88.35 148.17M65.88 115.50L68.78 118.40M65.88 118.40L68.78 115.50M93.09 148.60L95.99 151.50M93.09 151.50L95.99 148.60M60.78 134.51L63.68 137.41M60.78 137.41L63.68 134.51M80.24 95.50L83.14 98.40M80.24 98.40L83.14 95.50M70.30 101.75L73.20 104.65M70.30 104.65L73.20 101.75M100.39 189.09L103.29 191.99M100.39 191.99L103.29 189.09M62.87 143.84L65.77 146.74M62.87 146.74L65.77 143.84M63.29 125.54L66.19 128.44M63.29 128.44L66.19 125.54M85.43 117.88L88.33 120.78M85.43 120.78L88.33 117.88M69.02 159.63L71.92 162.53M69.02 162.53L71.92 159.63M67.15 124.30L70.05 127.20M67.15 127.20L70.05 124.30M91.90 132.28L94.80 135.18M91.90 135.18L94.80 132.28M124.30 27.55L127.20 30.45M124.30 30.45L127.20 27.55M106.65 35.45L109.55 38.35M106.65 38.35L109.55 35.45M128.95 38.80L131.85 41.70M128.95 41.70L131.85 38.80M92.95 37.30L95.85 40.20M92.95 40.20L95.85 37.30M95.80 39.15L98.70 42.05M95.80 42.05L98.70 39.15M102.95 42.55L105.85 45.45M102.95 45.45L105.85 42.55M101.45 49.15L104.35 52.05M101.45 52.05L104.35 49.15M93.55 50.80L96.45 53.70M93.55 53.70L96.45 50.80M102.30 56.30L105.20 59.20M102.30 59.20L105.20 56.30M107.05 56.30L109.95 59.20M107.05 59.20L109.95 56.30M122.05 56.30L124.95 59.20M122.05 59.20L124.95 56.30M91.05 61.30L93.95 64.20M91.05 64.20L93.95 61.30M93.55 61.05L96.45 63.95M93.55 63.95L96.45 61.05M117.05 63.55L119.95 66.45M117.05 66.45L119.95 63.55M94.55 66.45L97.45 69.35M94.55 69.35L97.45 66.45M103.55 67.05L106.45 69.95M103.55 69.95L106.45 67.05M105.80 66.65L108.70 69.55M105.80 69.55L108.70 66.65M111.05 64.80L113.95 67.70M111.05 67.70L113.95 64.80M86.65 69.80L89.55 72.70M86.65 72.70L89.55 69.80M82.95 74.15L85.85 77.05M82.95 77.05L85.85 74.15M86.05 74.80L88.95 77.70M86.05 77.70L88.95 74.80M92.30 74.15L95.20 77.05M92.30 77.05L95.20 74.15M99.45 75.45L102.35 78.35M99.45 78.35L102.35 75.45M110.45 71.65L113.35 74.55M110.45 74.55L113.35 71.65M114.15 75.45L117.05 78.35M114.15 78.35L117.05 75.45M117.30 74.15L120.20 77.05M117.30 77.05L120.20 74.15M103.30 82.65L106.20 85.55M103.30 85.55L106.20 82.65M82.30 83.55L85.20 86.45M82.30 86.45L85.20 83.55M88.30 86.30L91.20 89.20M88.30 89.20L91.20 86.30M80.45 87.95L83.35 90.85M80.45 90.85L83.35 87.95M85.45 91.05L88.35 93.95M85.45 93.95L88.35 91.05M117.95 91.05L120.85 93.95M117.95 93.95L120.85 91.05M94.80 93.55L97.70 96.45M94.80 96.45L97.70 93.55M103.55 95.45L106.45 98.35M103.55 98.35L106.45 95.45M76.05 97.30L78.95 100.20M76.05 100.20L78.95 97.30M71.05 99.15L73.95 102.05M71.05 102.05L73.95 99.15M91.05 99.80L93.95 102.70M91.05 102.70L93.95 99.80M99.15 101.05L102.05 103.95M99.15 103.95L102.05 101.05M85.45 102.30L88.35 105.20M85.45 105.20L88.35 102.30M88.55 107.55L91.45 110.45M88.55 110.45L91.45 107.55M92.95 107.55L95.85 110.45M92.95 110.45L95.85 107.55M99.80 112.30L102.70 115.20M99.80 115.20L102.70 112.30M92.30 112.30L95.20 115.20M92.30 115.20L95.20 112.30M125.45 61.30L128.35 64.20M125.45 64.20L128.35 61.30M132.55 64.55L135.45 67.45M132.55 67.45L135.45 64.55M132.95 67.55L135.85 70.45M132.95 70.45L135.85 67.55M170.65 61.95L173.55 64.85M170.65 64.85L173.55 61.95M187.05 70.65L189.95 73.55M187.05 73.55L189.95 70.65M174.45 75.45L177.35 78.35M174.45 78.35L177.35 75.45M145.15 80.15L148.05 83.05M145.15 83.05L148.05 80.15M163.30 82.55L166.20 85.45M163.30 85.45L166.20 82.55M135.45 84.45L138.35 87.35M135.45 87.35L138.35 84.45M129.80 87.05L132.70 89.95M129.80 89.95L132.70 87.05M161.30 94.15L164.20 97.05M161.30 97.05L164.20 94.15M161.65 99.80L164.55 102.70M161.65 102.70L164.55 99.80M138.80 102.05L141.70 104.95M138.80 104.95L141.70 102.05M129.15 108.55L132.05 111.45M129.15 111.45L132.05 108.55M141.05 109.80L143.95 112.70M141.05 112.70L143.95 109.80M155.45 109.15L158.35 112.05M155.45 112.05L158.35 109.15M172.55 108.30L175.45 111.20M172.55 111.20L175.45 108.30M123.30 111.30L126.20 114.20M123.30 114.20L126.20 111.30M186.55 112.30L189.45 115.20M186.55 115.20L189.45 112.30M192.30 112.95L195.20 115.85M192.30 115.85L195.20 112.95M91.65 113.55L94.55 116.45M91.65 116.45L94.55 113.55M97.30 113.55L100.20 116.45M97.30 116.45L100.20 113.55M105.45 115.45L108.35 118.35M105.45 118.35L108.35 115.45M95.45 124.15L98.35 127.05M95.45 127.05L98.35 124.15M103.55 124.80L106.45 127.70M103.55 127.70L106.45 124.80M95.45 130.45L98.35 133.35M95.45 133.35L98.35 130.45M100.45 137.95L103.35 140.85M100.45 140.85L103.35 137.95M104.15 142.30L107.05 145.20M104.15 145.20L107.05 142.30M96.65 144.80L99.55 147.70M96.65 147.70L99.55 144.80M102.95 147.30L105.85 150.20M102.95 150.20L105.85 147.30M116.65 144.80L119.55 147.70M116.65 147.70L119.55 144.80M107.30 151.65L110.20 154.55M107.30 154.55L110.20 151.65M111.05 156.05L113.95 158.95M111.05 158.95L113.95 156.05M101.05 159.15L103.95 162.05M101.05 162.05L103.95 159.15M113.55 164.15L116.45 167.05M113.55 167.05L116.45 164.15M92.30 166.05L95.20 168.95M92.30 168.95L95.20 166.05M140.45 119.15L143.35 122.05M140.45 122.05L143.35 119.15M143.55 121.65L146.45 124.55M143.55 124.55L146.45 121.65M148.55 119.15L151.45 122.05M148.55 122.05L151.45 119.15M129.15 125.45L132.05 128.35M129.15 128.35L132.05 125.45M126.05 128.55L128.95 131.45M126.05 131.45L128.95 128.55M132.95 127.30L135.85 130.20M132.95 130.20L135.85 127.30M131.65 131.05L134.55 133.95M131.65 133.95L134.55 131.05M141.05 124.15L143.95 127.05M141.05 127.05L143.95 124.15M166.65 130.05L169.55 132.95M166.65 132.95L169.55 130.05M176.30 128.80L179.20 131.70M176.30 131.70L179.20 128.80M180.45 128.95L183.35 131.85M180.45 131.85L183.35 128.95M130.45 138.15L133.35 141.05M130.45 141.05L133.35 138.15M147.95 146.05L150.85 148.95M147.95 148.95L150.85 146.05M127.30 151.05L130.20 153.95M127.30 153.95L130.20 151.05M120.45 160.45L123.35 163.35M120.45 163.35L123.35 160.45M189.15 156.65L192.05 159.55M189.15 159.55L192.05 156.65M194.15 166.05L197.05 168.95M194.15 168.95L197.05 166.05M207.05 124.55L209.95 127.45M207.05 127.45L209.95 124.55M216.05 128.30L218.95 131.20M216.05 131.20L218.95 128.30M205.80 136.65L208.70 139.55M205.80 139.55L208.70 136.65M232.05 141.65L234.95 144.55M232.05 144.55L234.95 141.65M204.55 146.45L207.45 149.35M204.55 149.35L207.45 146.45M241.05 146.45L243.95 149.35M241.05 149.35L243.95 146.45M109.15 167.05L112.05 169.95M109.15 169.95L112.05 167.05M130.80 170.15L133.70 173.05M130.80 173.05L133.70 170.15M102.95 173.55L105.85 176.45M102.95 176.45L105.85 173.55M104.80 179.15L107.70 182.05M104.80 182.05L107.70 179.15M125.45 177.95L128.35 180.85M125.45 180.85L128.35 177.95M122.30 181.05L125.20 183.95M122.30 183.95L125.20 181.05M110.45 181.45L113.35 184.35M110.45 184.35L113.35 181.45M114.80 182.55L117.70 185.45M114.80 185.45L117.70 182.55M101.05 185.45L103.95 188.35M101.05 188.35L103.95 185.45M100.45 187.30L103.35 190.20M100.45 190.20L103.35 187.30M116.05 189.80L118.95 192.70M116.05 192.70L118.95 189.80M93.55 191.30L96.45 194.20M93.55 194.20L96.45 191.30M92.95 184.80L95.85 187.70M92.95 187.70L95.85 184.80M194.55 167.05L197.45 169.95M194.55 169.95L197.45 167.05M178.55 179.80L181.45 182.70M178.55 182.70L181.45 179.80M145.80 192.55L148.70 195.45M145.80 195.45L148.70 192.55M220.05 175.65L222.95 178.55M220.05 178.55L222.95 175.65"/><g fill="#0072BD"><rect x="399.30" y="129.30" width="2.6" height="2.6"/><rect x="403.70" y="134.30" width="2.6" height="2.6"/><rect x="404.95" y="136.80" width="2.6" height="2.6"/><rect x="409.30" y="146.80" width="2.6" height="2.6"/><rect x="420.60" y="146.20" width="2.6" height="2.6"/><rect x="424.30" y="149.30" width="2.6" height="2.6"/><rect x="426.80" y="150.60" width="2.6" height="2.6"/><rect x="420.60" y="153.70" width="2.6" height="2.6"/><rect x="429.95" y="154.95" width="2.6" height="2.6"/><rect x="417.45" y="156.20" width="2.6" height="2.6"/><rect x="419.95" y="157.45" width="2.6" height="2.6"/><rect x="426.80" y="157.45" width="2.6" height="2.6"/><rect x="446.20" y="157.45" width="2.6" height="2.6"/><rect x="420.80" y="145.95" width="2.6" height="2.6"/><rect x="427.45" y="150.80" width="2.6" height="2.6"/><rect x="430.20" y="154.70" width="2.6" height="2.6"/><rect x="427.20" y="158.10" width="2.6" height="2.6"/><rect x="445.95" y="157.70" width="2.6" height="2.6"/><rect x="421.20" y="162.45" width="2.6" height="2.6"/><rect x="424.95" y="163.70" width="2.6" height="2.6"/><rect x="434.30" y="164.95" width="2.6" height="2.6"/><rect x="436.80" y="165.60" width="2.6" height="2.6"/><rect x="429.95" y="167.45" width="2.6" height="2.6"/><rect x="428.10" y="170.95" width="2.6" height="2.6"/><rect x="432.45" y="174.95" width="2.6" height="2.6"/><rect x="478.10" y="167.45" width="2.6" height="2.6"/><rect x="485.60" y="169.70" width="2.6" height="2.6"/><rect x="454.95" y="174.95" width="2.6" height="2.6"/><rect x="461.20" y="175.60" width="2.6" height="2.6"/><rect x="466.20" y="176.20" width="2.6" height="2.6"/><rect x="458.10" y="178.10" width="2.6" height="2.6"/><rect x="458.70" y="181.20" width="2.6" height="2.6"/><rect x="451.20" y="178.70" width="2.6" height="2.6"/><rect x="451.80" y="181.80" width="2.6" height="2.6"/><rect x="449.95" y="184.95" width="2.6" height="2.6"/><rect x="464.30" y="181.80" width="2.6" height="2.6"/><rect x="467.45" y="182.45" width="2.6" height="2.6"/><rect x="473.10" y="179.95" width="2.6" height="2.6"/><rect x="476.20" y="179.95" width="2.6" height="2.6"/><rect x="473.70" y="181.80" width="2.6" height="2.6"/><rect x="455.60" y="188.10" width="2.6" height="2.6"/><rect x="458.10" y="189.30" width="2.6" height="2.6"/><rect x="462.45" y="186.80" width="2.6" height="2.6"/><rect x="466.20" y="188.10" width="2.6" height="2.6"/><rect x="469.95" y="186.20" width="2.6" height="2.6"/><rect x="472.45" y="187.45" width="2.6" height="2.6"/><rect x="476.80" y="186.20" width="2.6" height="2.6"/><rect x="481.20" y="185.60" width="2.6" height="2.6"/><rect x="483.70" y="185.60" width="2.6" height="2.6"/><rect x="474.30" y="189.30" width="2.6" height="2.6"/><rect x="485.60" y="188.10" width="2.6" height="2.6"/><rect x="478.10" y="192.45" width="2.6" height="2.6"/><rect x="483.70" y="191.80" width="2.6" height="2.6"/><rect x="481.20" y="194.95" width="2.6" height="2.6"/><rect x="483.70" y="196.20" width="2.6" height="2.6"/><rect x="543.10" y="140.60" width="2.6" height="2.6"/><rect x="543.70" y="138.70" width="2.6" height="2.6"/><rect x="557.45" y="139.95" width="2.6" height="2.6"/><rect x="556.20" y="143.10" width="2.6" height="2.6"/><rect x="548.70" y="144.30" width="2.6" height="2.6"/><rect x="550.60" y="146.80" width="2.6" height="2.6"/><rect x="551.80" y="149.30" width="2.6" height="2.6"/><rect x="553.70" y="150.60" width="2.6" height="2.6"/><rect x="556.20" y="148.10" width="2.6" height="2.6"/><rect x="544.30" y="145.60" width="2.6" height="2.6"/><rect x="529.10" y="143.45" width="2.6" height="2.6"/><rect x="521.80" y="145.95" width="2.6" height="2.6"/><rect x="519.95" y="150.95" width="2.6" height="2.6"/><rect x="536.45" y="152.70" width="2.6" height="2.6"/><rect x="530.60" y="155.30" width="2.6" height="2.6"/><rect x="542.45" y="154.95" width="2.6" height="2.6"/><rect x="539.95" y="157.45" width="2.6" height="2.6"/><rect x="537.45" y="159.30" width="2.6" height="2.6"/><rect x="535.60" y="161.80" width="2.6" height="2.6"/><rect x="539.95" y="161.20" width="2.6" height="2.6"/><rect x="539.30" y="163.10" width="2.6" height="2.6"/><rect x="549.30" y="155.60" width="2.6" height="2.6"/><rect x="546.80" y="159.30" width="2.6" height="2.6"/><rect x="545.60" y="161.80" width="2.6" height="2.6"/><rect x="531.80" y="164.30" width="2.6" height="2.6"/><rect x="512.80" y="158.10" width="2.6" height="2.6"/><rect x="523.10" y="162.45" width="2.6" height="2.6"/><rect x="539.95" y="167.70" width="2.6" height="2.6"/><rect x="523.10" y="168.10" width="2.6" height="2.6"/><rect x="485.60" y="169.70" width="2.6" height="2.6"/><rect x="490.95" y="170.60" width="2.6" height="2.6"/><rect x="496.20" y="170.60" width="2.6" height="2.6"/><rect x="507.20" y="171.20" width="2.6" height="2.6"/><rect x="514.30" y="171.80" width="2.6" height="2.6"/><rect x="519.95" y="171.80" width="2.6" height="2.6"/><rect x="524.30" y="174.30" width="2.6" height="2.6"/><rect x="521.80" y="174.30" width="2.6" height="2.6"/><rect x="528.70" y="170.60" width="2.6" height="2.6"/><rect x="532.45" y="171.80" width="2.6" height="2.6"/><rect x="497.45" y="175.20" width="2.6" height="2.6"/><rect x="505.60" y="177.45" width="2.6" height="2.6"/><rect x="518.70" y="176.20" width="2.6" height="2.6"/><rect x="517.45" y="178.10" width="2.6" height="2.6"/><rect x="515.60" y="179.95" width="2.6" height="2.6"/><rect x="513.70" y="181.80" width="2.6" height="2.6"/><rect x="516.20" y="182.45" width="2.6" height="2.6"/><rect x="511.20" y="183.70" width="2.6" height="2.6"/><rect x="491.20" y="184.30" width="2.6" height="2.6"/><rect x="494.30" y="184.95" width="2.6" height="2.6"/><rect x="504.30" y="186.20" width="2.6" height="2.6"/><rect x="511.80" y="186.80" width="2.6" height="2.6"/><rect x="501.20" y="189.30" width="2.6" height="2.6"/><rect x="504.95" y="192.20" width="2.6" height="2.6"/><rect x="493.70" y="192.20" width="2.6" height="2.6"/><rect x="490.60" y="187.45" width="2.6" height="2.6"/><rect x="480.60" y="185.60" width="2.6" height="2.6"/><rect x="483.10" y="185.60" width="2.6" height="2.6"/><rect x="485.60" y="188.10" width="2.6" height="2.6"/><rect x="479.30" y="191.20" width="2.6" height="2.6"/><rect x="483.70" y="191.80" width="2.6" height="2.6"/><rect x="483.10" y="195.60" width="2.6" height="2.6"/><rect x="586.80" y="79.95" width="2.6" height="2.6"/><rect x="594.30" y="78.70" width="2.6" height="2.6"/><rect x="570.95" y="89.95" width="2.6" height="2.6"/><rect x="584.30" y="89.30" width="2.6" height="2.6"/><rect x="587.45" y="87.45" width="2.6" height="2.6"/><rect x="590.60" y="86.20" width="2.6" height="2.6"/><rect x="588.10" y="91.80" width="2.6" height="2.6"/><rect x="588.70" y="94.30" width="2.6" height="2.6"/><rect x="585.60" y="94.95" width="2.6" height="2.6"/><rect x="589.30" y="96.80" width="2.6" height="2.6"/><rect x="580.60" y="97.20" width="2.6" height="2.6"/><rect x="574.70" y="101.20" width="2.6" height="2.6"/><rect x="577.80" y="106.80" width="2.6" height="2.6"/><rect x="581.80" y="109.30" width="2.6" height="2.6"/><rect x="575.60" y="110.95" width="2.6" height="2.6"/><rect x="573.95" y="112.45" width="2.6" height="2.6"/><rect x="582.10" y="114.10" width="2.6" height="2.6"/><rect x="556.80" y="115.60" width="2.6" height="2.6"/><rect x="561.60" y="115.60" width="2.6" height="2.6"/><rect x="546.80" y="119.60" width="2.6" height="2.6"/><rect x="554.95" y="122.70" width="2.6" height="2.6"/><rect x="566.80" y="120.95" width="2.6" height="2.6"/><rect x="572.20" y="119.95" width="2.6" height="2.6"/><rect x="564.10" y="124.70" width="2.6" height="2.6"/><rect x="577.10" y="123.95" width="2.6" height="2.6"/><rect x="573.45" y="127.45" width="2.6" height="2.6"/><rect x="560.60" y="130.80" width="2.6" height="2.6"/><rect x="564.30" y="132.20" width="2.6" height="2.6"/><rect x="568.10" y="130.20" width="2.6" height="2.6"/><rect x="559.30" y="135.95" width="2.6" height="2.6"/><rect x="543.70" y="138.45" width="2.6" height="2.6"/><rect x="607.45" y="26.80" width="2.6" height="2.6"/><rect x="601.20" y="29.30" width="2.6" height="2.6"/><rect x="605.20" y="30.95" width="2.6" height="2.6"/><rect x="589.30" y="36.60" width="2.6" height="2.6"/><rect x="594.10" y="35.60" width="2.6" height="2.6"/><rect x="603.10" y="41.60" width="2.6" height="2.6"/><rect x="604.30" y="43.10" width="2.6" height="2.6"/><rect x="604.70" y="45.30" width="2.6" height="2.6"/><rect x="612.20" y="42.20" width="2.6" height="2.6"/><rect x="604.95" y="52.20" width="2.6" height="2.6"/><rect x="594.30" y="53.95" width="2.6" height="2.6"/><rect x="596.80" y="55.20" width="2.6" height="2.6"/><rect x="606.20" y="56.45" width="2.6" height="2.6"/><rect x="598.10" y="59.10" width="2.6" height="2.6"/><rect x="590.20" y="62.45" width="2.6" height="2.6"/><rect x="594.30" y="68.45" width="2.6" height="2.6"/><rect x="594.30" y="72.20" width="2.6" height="2.6"/><rect x="591.45" y="73.30" width="2.6" height="2.6"/><rect x="594.20" y="78.10" width="2.6" height="2.6"/><rect x="587.45" y="78.60" width="2.6" height="2.6"/><rect x="586.50" y="80.45" width="2.6" height="2.6"/><rect x="590.45" y="86.10" width="2.6" height="2.6"/><rect x="587.90" y="86.80" width="2.6" height="2.6"/><rect x="584.70" y="89.20" width="2.6" height="2.6"/><rect x="587.45" y="91.70" width="2.6" height="2.6"/><rect x="588.40" y="93.80" width="2.6" height="2.6"/><rect x="588.85" y="96.20" width="2.6" height="2.6"/><rect x="585.60" y="95.10" width="2.6" height="2.6"/><rect x="580.40" y="96.95" width="2.6" height="2.6"/><rect x="530.30" y="160.00" width="2.6" height="2.6"/><rect x="541.70" y="159.20" width="2.6" height="2.6"/><rect x="548.70" y="159.50" width="2.6" height="2.6"/><rect x="543.70" y="154.70" width="2.6" height="2.6"/><rect x="538.70" y="158.20" width="2.6" height="2.6"/><rect x="450.70" y="178.50" width="2.6" height="2.6"/><rect x="451.50" y="181.20" width="2.6" height="2.6"/><rect x="458.50" y="180.80" width="2.6" height="2.6"/><rect x="464.00" y="181.60" width="2.6" height="2.6"/><rect x="467.90" y="182.70" width="2.6" height="2.6"/><rect x="462.45" y="186.70" width="2.6" height="2.6"/><rect x="466.35" y="188.70" width="2.6" height="2.6"/><rect x="470.30" y="185.90" width="2.6" height="2.6"/><rect x="471.80" y="187.45" width="2.6" height="2.6"/><rect x="477.30" y="185.50" width="2.6" height="2.6"/><rect x="480.40" y="185.50" width="2.6" height="2.6"/><rect x="485.90" y="187.80" width="2.6" height="2.6"/><rect x="477.70" y="192.10" width="2.6" height="2.6"/><rect x="480.00" y="194.10" width="2.6" height="2.6"/><rect x="483.90" y="191.70" width="2.6" height="2.6"/></g><path fill="none" stroke="#D95319" stroke-width="0.62" d="M441.01 178.06L443.91 180.96M441.01 180.96L443.91 178.06M427.77 169.28L430.67 172.18M427.77 172.18L430.67 169.28M406.86 152.67L409.76 155.57M406.86 155.57L409.76 152.67M408.80 147.60L411.70 150.50M408.80 150.50L411.70 147.60M420.41 157.33L423.31 160.23M420.41 160.23L423.31 157.33M437.89 180.86L440.79 183.76M437.89 183.76L440.79 180.86M391.81 115.28L394.71 118.18M391.81 118.18L394.71 115.28M398.27 132.72L401.17 135.62M398.27 135.62L401.17 132.72M405.96 142.93L408.86 145.83M405.96 145.83L408.86 142.93M397.08 128.57L399.98 131.47M397.08 131.47L399.98 128.57M416.55 153.40L419.45 156.30M416.55 156.30L419.45 153.40M434.89 172.35L437.79 175.25M434.89 175.25L437.79 172.35M417.84 166.53L420.74 169.43M417.84 169.43L420.74 166.53M398.08 130.43L400.98 133.33M398.08 133.33L400.98 130.43M420.26 162.62L423.16 165.52M420.26 165.52L423.16 162.62M401.00 142.11L403.90 145.01M401.00 145.01L403.90 142.11M404.40 141.13L407.30 144.03M404.40 144.03L407.30 141.13M432.91 176.36L435.81 179.26M432.91 179.26L435.81 176.36M409.62 145.47L412.52 148.37M409.62 148.37L412.52 145.47M391.07 124.50L393.97 127.40M391.07 127.40L393.97 124.50M419.01 154.93L421.91 157.83M419.01 157.83L421.91 154.93M439.51 169.78L442.41 172.68M439.51 172.68L442.41 169.78M440.20 179.50L443.10 182.40M440.20 182.40L443.10 179.50M409.85 156.53L412.75 159.43M409.85 159.43L412.75 156.53M395.70 128.35L398.60 131.25M395.70 131.25L398.60 128.35M412.89 149.22L415.79 152.12M412.89 152.12L415.79 149.22M432.51 178.74L435.41 181.64M432.51 181.64L435.41 178.74M423.33 158.01L426.23 160.91M423.33 160.91L426.23 158.01M392.94 123.67L395.84 126.57M392.94 126.57L395.84 123.67M387.74 120.13L390.64 123.03M387.74 123.03L390.64 120.13M391.41 123.55L394.31 126.45M391.41 126.45L394.31 123.55M399.74 135.93L402.64 138.83M399.74 138.83L402.64 135.93M390.44 121.78L393.34 124.68M390.44 124.68L393.34 121.78M388.95 118.45L391.85 121.35M388.95 121.35L391.85 118.45M388.01 117.33L390.91 120.23M388.01 120.23L390.91 117.33M426.78 166.29L429.68 169.19M426.78 169.19L429.68 166.29M400.55 131.75L403.45 134.65M400.55 134.65L403.45 131.75M388.16 117.53L391.06 120.43M388.16 120.43L391.06 117.53M409.82 151.09L412.72 153.99M409.82 153.99L412.72 151.09M387.86 117.60L390.76 120.50M387.86 120.50L390.76 117.60M421.52 163.38L424.42 166.28M421.52 166.28L424.42 163.38M426.16 176.79L429.06 179.69M426.16 179.69L429.06 176.79M402.60 139.24L405.50 142.14M402.60 142.14L405.50 139.24M390.23 118.42L393.13 121.32M390.23 121.32L393.13 118.42M433.93 169.62L436.83 172.52M433.93 172.52L436.83 169.62M407.42 140.77L410.32 143.67M407.42 143.67L410.32 140.77M408.87 150.68L411.77 153.58M408.87 153.58L411.77 150.68M388.86 116.76L391.76 119.66M388.86 119.66L391.76 116.76M388.28 117.40L391.18 120.30M388.28 120.30L391.18 117.40M404.63 141.81L407.53 144.71M404.63 144.71L407.53 141.81M439.70 174.76L442.60 177.66M439.70 177.66L442.60 174.76M392.95 125.36L395.85 128.26M392.95 128.26L395.85 125.36M411.28 150.96L414.18 153.86M411.28 153.86L414.18 150.96M397.10 137.69L400.00 140.59M397.10 140.59L400.00 137.69M388.92 116.57L391.82 119.47M388.92 119.47L391.82 116.57M418.40 159.47L421.30 162.37M418.40 162.37L421.30 159.47M393.02 123.96L395.92 126.86M393.02 126.86L395.92 123.96M402.99 144.24L405.89 147.14M402.99 147.14L405.89 144.24M392.06 123.28L394.96 126.18M392.06 126.18L394.96 123.28M441.20 179.46L444.10 182.36M441.20 182.36L444.10 179.46M412.21 145.43L415.11 148.33M412.21 148.33L415.11 145.43M392.27 121.20L395.17 124.10M392.27 124.10L395.17 121.20M402.79 144.19L405.69 147.09M402.79 147.09L405.69 144.19M408.40 151.80L411.30 154.70M408.40 154.70L411.30 151.80M389.50 116.38L392.40 119.28M389.50 119.28L392.40 116.38M388.64 119.37L391.54 122.27M388.64 122.27L391.54 119.37M388.95 116.67L391.85 119.57M388.95 119.57L391.85 116.67M398.03 135.84L400.93 138.74M398.03 138.74L400.93 135.84M388.70 118.28L391.60 121.18M388.70 121.18L391.60 118.28M398.28 132.05L401.18 134.95M398.28 134.95L401.18 132.05M391.06 122.62L393.96 125.52M391.06 125.52L393.96 122.62M395.44 135.71L398.34 138.61M395.44 138.61L398.34 135.71M396.79 115.26L399.69 118.16M396.79 118.16L399.69 115.26M413.26 151.52L416.16 154.42M413.26 154.42L416.16 151.52M419.30 153.53L422.20 156.43M419.30 156.43L422.20 153.53M418.86 158.97L421.76 161.87M418.86 161.87L421.76 158.97M393.79 133.60L396.69 136.50M393.79 136.50L396.69 133.60M405.72 143.14L408.62 146.04M405.72 146.04L408.62 143.14M442.07 176.25L444.97 179.15M442.07 179.15L444.97 176.25M390.67 130.42L393.57 133.32M390.67 133.32L393.57 130.42M402.84 140.81L405.74 143.71M402.84 143.71L405.74 140.81M438.65 172.64L441.55 175.54M438.65 175.54L441.55 172.64M428.19 165.67L431.09 168.57M428.19 168.57L431.09 165.67M390.58 120.31L393.48 123.21M390.58 123.21L393.48 120.31M389.71 117.43L392.61 120.33M389.71 120.33L392.61 117.43M413.07 152.79L415.97 155.69M413.07 155.69L415.97 152.79M415.76 153.61L418.66 156.51M415.76 156.51L418.66 153.61M399.70 137.58L402.60 140.48M399.70 140.48L402.60 137.58M439.86 178.22L442.76 181.12M439.86 181.12L442.76 178.22M387.89 119.62L390.79 122.52M387.89 122.52L390.79 119.62M433.68 174.15L436.58 177.05M433.68 177.05L436.58 174.15M410.20 164.33L413.10 167.23M410.20 167.23L413.10 164.33M408.27 147.00L411.17 149.90M408.27 149.90L411.17 147.00M408.66 149.38L411.56 152.28M408.66 152.28L411.56 149.38M389.67 122.76L392.57 125.66M389.67 125.66L392.57 122.76M417.07 158.62L419.97 161.52M417.07 161.52L419.97 158.62M410.78 164.09L413.68 166.99M410.78 166.99L413.68 164.09M421.19 160.28L424.09 163.18M421.19 163.18L424.09 160.28M422.51 161.65L425.41 164.55M422.51 164.55L425.41 161.65M397.87 135.17L400.77 138.07M397.87 138.07L400.77 135.17M442.86 180.48L445.76 183.38M442.86 183.38L445.76 180.48M417.06 158.81L419.96 161.71M417.06 161.71L419.96 158.81M412.66 153.50L415.56 156.40M412.66 156.40L415.56 153.50M418.39 160.41L421.29 163.31M418.39 163.31L421.29 160.41M435.81 173.58L438.71 176.48M435.81 176.48L438.71 173.58M421.20 163.87L424.10 166.77M421.20 166.77L424.10 163.87M418.68 162.57L421.58 165.47M418.68 165.47L421.58 162.57M389.58 120.48L392.48 123.38M389.58 123.38L392.48 120.48M400.32 136.71L403.22 139.61M400.32 139.61L403.22 136.71M393.19 122.10L396.09 125.00M393.19 125.00L396.09 122.10M389.39 117.82L392.29 120.72M389.39 120.72L392.29 117.82M413.18 154.27L416.08 157.17M413.18 157.17L416.08 154.27M402.01 140.93L404.91 143.83M402.01 143.83L404.91 140.93M409.86 137.91L412.76 140.81M409.86 140.81L412.76 137.91M391.60 121.17L394.50 124.07M391.60 124.07L394.50 121.17M420.44 167.59L423.34 170.49M420.44 170.49L423.34 167.59M432.49 169.20L435.39 172.10M432.49 172.10L435.39 169.20M403.35 137.91L406.25 140.81M403.35 140.81L406.25 137.91M386.72 117.98L389.62 120.88M386.72 120.88L389.62 117.98M403.72 145.74L406.62 148.64M403.72 148.64L406.62 145.74M401.87 136.59L404.77 139.49M401.87 139.49L404.77 136.59M401.55 141.08L404.45 143.98M401.55 143.98L404.45 141.08M439.41 170.69L442.31 173.59M439.41 173.59L442.31 170.69M413.54 152.05L416.44 154.95M413.54 154.95L416.44 152.05M416.96 149.72L419.86 152.62M416.96 152.62L419.86 149.72M409.72 153.89L412.62 156.79M409.72 156.79L412.62 153.89M426.45 163.92L429.35 166.82M426.45 166.82L429.35 163.92M395.20 128.36L398.10 131.26M395.20 131.26L398.10 128.36M395.72 125.64L398.62 128.54M395.72 128.54L398.62 125.64M389.66 119.21L392.56 122.11M389.66 122.11L392.56 119.21M397.81 127.51L400.71 130.41M397.81 130.41L400.71 127.51M401.03 137.03L403.93 139.93M401.03 139.93L403.93 137.03M436.02 171.16L438.92 174.06M436.02 174.06L438.92 171.16M436.76 177.83L439.66 180.73M436.76 180.73L439.66 177.83M389.14 118.99L392.04 121.89M389.14 121.89L392.04 118.99M398.84 131.77L401.74 134.67M398.84 134.67L401.74 131.77M424.81 165.08L427.71 167.98M424.81 167.98L427.71 165.08M402.13 132.12L405.03 135.02M402.13 135.02L405.03 132.12M399.36 128.55L402.26 131.45M399.36 131.45L402.26 128.55M411.81 160.59L414.71 163.49M411.81 163.49L414.71 160.59M419.91 161.05L422.81 163.95M419.91 163.95L422.81 161.05M415.95 166.85L418.85 169.75M415.95 169.75L418.85 166.85M392.50 128.80L395.40 131.70M392.50 131.70L395.40 128.80M402.35 131.48L405.25 134.38M402.35 134.38L405.25 131.48M401.91 140.09L404.81 142.99M401.91 142.99L404.81 140.09M391.63 121.91L394.53 124.81M391.63 124.81L394.53 121.91M394.08 132.80L396.98 135.70M394.08 135.70L396.98 132.80M425.63 158.52L428.53 161.42M425.63 161.42L428.53 158.52M405.97 144.85L408.87 147.75M405.97 147.75L408.87 144.85M397.38 125.17L400.28 128.07M397.38 128.07L400.28 125.17M399.07 115.30L401.97 118.20M399.07 118.20L401.97 115.30M390.18 120.33L393.08 123.23M390.18 123.23L393.08 120.33M394.06 124.63L396.96 127.53M394.06 127.53L396.96 124.63M392.98 125.03L395.88 127.93M392.98 127.93L395.88 125.03M400.12 130.82L403.02 133.72M400.12 133.72L403.02 130.82M389.23 117.56L392.13 120.46M389.23 120.46L392.13 117.56M429.70 157.38L432.60 160.28M429.70 160.28L432.60 157.38M395.65 130.63L398.55 133.53M395.65 133.53L398.55 130.63M405.27 154.92L408.17 157.82M405.27 157.82L408.17 154.92M406.17 137.09L409.07 139.99M406.17 139.99L409.07 137.09M396.62 128.16L399.52 131.06M396.62 131.06L399.52 128.16M403.33 146.05L406.23 148.95M403.33 148.95L406.23 146.05M445.56 179.50L448.46 182.40M445.56 182.40L448.46 179.50M415.50 136.78L418.40 139.68M415.50 139.68L418.40 136.78M391.42 118.87L394.32 121.77M391.42 121.77L394.32 118.87M415.62 155.16L418.52 158.06M415.62 158.06L418.52 155.16M427.17 163.21L430.07 166.11M427.17 166.11L430.07 163.21M391.64 121.12L394.54 124.02M391.64 124.02L394.54 121.12M441.66 180.80L444.56 183.70M441.66 183.70L444.56 180.80M388.68 117.55L391.58 120.45M388.68 120.45L391.58 117.55M408.01 145.43L410.91 148.33M408.01 148.33L410.91 145.43M391.44 122.83L394.34 125.73M391.44 125.73L394.34 122.83M423.55 171.85L426.45 174.75M423.55 174.75L426.45 171.85M389.74 120.49L392.64 123.39M389.74 123.39L392.64 120.49M390.06 119.88L392.96 122.78M390.06 122.78L392.96 119.88M388.56 117.72L391.46 120.62M388.56 120.62L391.46 117.72M395.27 134.62L398.17 137.52M395.27 137.52L398.17 134.62M414.51 162.34L417.41 165.24M414.51 165.24L417.41 162.34M436.88 174.76L439.78 177.66M436.88 177.66L439.78 174.76M411.37 151.31L414.27 154.21M411.37 154.21L414.27 151.31M397.23 133.16L400.13 136.06M397.23 136.06L400.13 133.16M400.58 132.93L403.48 135.83M400.58 135.83L403.48 132.93M423.26 169.49L426.16 172.39M423.26 172.39L426.16 169.49M420.76 164.04L423.66 166.94M420.76 166.94L423.66 164.04M391.69 124.61L394.59 127.51M391.69 127.51L394.59 124.61M387.32 117.93L390.22 120.83M387.32 120.83L390.22 117.93M392.06 122.60L394.96 125.50M392.06 125.50L394.96 122.60M412.54 149.89L415.44 152.79M412.54 152.79L415.44 149.89M415.87 158.56L418.77 161.46M415.87 161.46L418.77 158.56M426.93 167.82L429.83 170.72M426.93 170.72L429.83 167.82M409.32 149.32L412.22 152.22M409.32 152.22L412.22 149.32M410.44 153.56L413.34 156.46M410.44 156.46L413.34 153.56M442.80 180.75L445.70 183.65M442.80 183.65L445.70 180.75M401.42 139.05L404.32 141.95M401.42 141.95L404.32 139.05M418.07 156.09L420.97 158.99M418.07 158.99L420.97 156.09M432.97 176.91L435.87 179.81M432.97 179.81L435.87 176.91M417.02 160.30L419.92 163.20M417.02 163.20L419.92 160.30M415.89 151.70L418.79 154.60M415.89 154.60L418.79 151.70M437.82 171.94L440.72 174.84M437.82 174.84L440.72 171.94M394.18 131.17L397.08 134.07M394.18 134.07L397.08 131.17M436.67 176.62L439.57 179.52M436.67 179.52L439.57 176.62M420.90 165.05L423.80 167.95M420.90 167.95L423.80 165.05M398.25 140.08L401.15 142.98M398.25 142.98L401.15 140.08M402.17 139.57L405.07 142.47M402.17 142.47L405.07 139.57M391.99 122.03L394.89 124.93M391.99 124.93L394.89 122.03M406.89 147.86L409.79 150.76M406.89 150.76L409.79 147.86M431.71 169.38L434.61 172.28M431.71 172.28L434.61 169.38M408.13 152.84L411.03 155.74M408.13 155.74L411.03 152.84M391.76 130.61L394.66 133.51M391.76 133.51L394.66 130.61M428.08 169.16L430.98 172.06M428.08 172.06L430.98 169.16M391.58 122.64L394.48 125.54M391.58 125.54L394.48 122.64M395.29 129.21L398.19 132.11M395.29 132.11L398.19 129.21M403.61 135.18L406.51 138.08M403.61 138.08L406.51 135.18M428.32 168.18L431.22 171.08M428.32 171.08L431.22 168.18M392.75 119.18L395.65 122.08M392.75 122.08L395.65 119.18M410.41 147.42L413.31 150.32M410.41 150.32L413.31 147.42M423.06 167.81L425.96 170.71M423.06 170.71L425.96 167.81M389.44 121.26L392.34 124.16M389.44 124.16L392.34 121.26M394.54 121.13L397.44 124.03M394.54 124.03L397.44 121.13M429.15 175.50L432.05 178.40M429.15 178.40L432.05 175.50M391.29 125.24L394.19 128.14M391.29 128.14L394.19 125.24M388.32 118.13L391.22 121.03M388.32 121.03L391.22 118.13M397.54 134.27L400.44 137.17M397.54 137.17L400.44 134.27M440.55 182.10L443.45 185.00M440.55 185.00L443.45 182.10M392.81 122.99L395.71 125.89M392.81 125.89L395.71 122.99M405.49 144.00L408.39 146.90M405.49 146.90L408.39 144.00M415.34 154.63L418.24 157.53M415.34 157.53L418.24 154.63M409.35 139.54L412.25 142.44M409.35 142.44L412.25 139.54M423.07 164.64L425.97 167.54M423.07 167.54L425.97 164.64M419.28 155.50L422.18 158.40M419.28 158.40L422.18 155.50M403.16 139.50L406.06 142.40M403.16 142.40L406.06 139.50M406.17 144.16L409.07 147.06M406.17 147.06L409.07 144.16M412.87 152.72L415.77 155.62M412.87 155.62L415.77 152.72M388.76 118.71L391.66 121.61M388.76 121.61L391.66 118.71M401.52 136.23L404.42 139.13M401.52 139.13L404.42 136.23M403.44 138.76L406.34 141.66M403.44 141.66L406.34 138.76M394.63 132.83L397.53 135.73M394.63 135.73L397.53 132.83M390.70 118.35L393.60 121.25M390.70 121.25L393.60 118.35M399.68 130.25L402.58 133.15M399.68 133.15L402.58 130.25M433.16 175.02L436.06 177.92M433.16 177.92L436.06 175.02M443.72 176.91L446.62 179.81M443.72 179.81L446.62 176.91M388.05 117.14L390.95 120.04M388.05 120.04L390.95 117.14M451.21 174.07L454.11 176.97M451.21 176.97L454.11 174.07M404.02 145.82L406.92 148.72M404.02 148.72L406.92 145.82M428.51 160.60L431.41 163.50M428.51 163.50L431.41 160.60M442.59 178.30L445.49 181.20M442.59 181.20L445.49 178.30M421.63 148.12L424.53 151.02M421.63 151.02L424.53 148.12M393.60 124.66L396.50 127.56M393.60 127.56L396.50 124.66M436.44 173.58L439.34 176.48M436.44 176.48L439.34 173.58M392.14 124.63L395.04 127.53M392.14 127.53L395.04 124.63M387.46 117.48L390.36 120.38M387.46 120.38L390.36 117.48M416.91 149.50L419.81 152.40M416.91 152.40L419.81 149.50M398.69 134.66L401.59 137.56M398.69 137.56L401.59 134.66M388.80 120.41L391.70 123.31M388.80 123.31L391.70 120.41M443.64 178.56L446.54 181.46M443.64 181.46L446.54 178.56M402.48 144.08L405.38 146.98M402.48 146.98L405.38 144.08M425.65 164.95L428.55 167.85M425.65 167.85L428.55 164.95M390.03 121.50L392.93 124.40M390.03 124.40L392.93 121.50M387.90 117.43L390.80 120.33M387.90 120.33L390.80 117.43M441.43 182.55L444.33 185.45M441.43 185.45L444.33 182.55M398.93 138.45L401.83 141.35M398.93 141.35L401.83 138.45M399.68 135.98L402.58 138.88M399.68 138.88L402.58 135.98M441.67 176.29L444.57 179.19M441.67 179.19L444.57 176.29M411.62 150.22L414.52 153.12M411.62 153.12L414.52 150.22M442.85 179.43L445.75 182.33M442.85 182.33L445.75 179.43M406.52 147.57L409.42 150.47M406.52 150.47L409.42 147.57M396.00 132.83L398.90 135.73M396.00 135.73L398.90 132.83M400.43 139.45L403.33 142.35M400.43 142.35L403.33 139.45M399.59 139.90L402.49 142.80M399.59 142.80L402.49 139.90M418.41 164.60L421.31 167.50M418.41 167.50L421.31 164.60M421.63 160.08L424.53 162.98M421.63 162.98L424.53 160.08M442.98 175.96L445.88 178.86M442.98 178.86L445.88 175.96M403.00 137.08L405.90 139.98M403.00 139.98L405.90 137.08M439.85 182.38L442.75 185.28M439.85 185.28L442.75 182.38M418.21 155.18L421.11 158.08M418.21 158.08L421.11 155.18M423.83 166.60L426.73 169.50M423.83 169.50L426.73 166.60M413.52 152.52L416.42 155.42M413.52 155.42L416.42 152.52M406.82 139.39L409.72 142.29M406.82 142.29L409.72 139.39M435.55 175.41L438.45 178.31M435.55 178.31L438.45 175.41M397.08 135.90L399.98 138.80M397.08 138.80L399.98 135.90M396.65 120.45L399.55 123.35M396.65 123.35L399.55 120.45M402.30 127.30L405.20 130.20M402.30 130.20L405.20 127.30M407.30 131.65L410.20 134.55M407.30 134.55L410.20 131.65M413.55 140.45L416.45 143.35M413.55 143.35L416.45 140.45M416.05 147.30L418.95 150.20M416.05 150.20L418.95 147.30M424.15 153.55L427.05 156.45M424.15 156.45L427.05 153.55M473.80 153.30L476.70 156.20M473.80 156.20L476.70 153.30M478.55 162.95L481.45 165.85M478.55 165.85L481.45 162.95M434.80 161.05L437.70 163.95M434.80 163.95L437.70 161.05M454.80 171.65L457.70 174.55M454.80 174.55L457.70 171.65M471.05 177.95L473.95 180.85M471.05 180.85L473.95 177.95M448.55 175.45L451.45 178.35M448.55 178.35L451.45 175.45M446.05 181.05L448.95 183.95M446.05 183.95L448.95 181.05M444.80 183.55L447.70 186.45M444.80 186.45L447.70 183.55M447.30 187.95L450.20 190.85M447.30 190.85L450.20 187.95M464.15 191.05L467.05 193.95M464.15 193.95L467.05 191.05M471.65 193.55L474.55 196.45M471.65 196.45L474.55 193.55M483.55 189.80L486.45 192.70M483.55 192.70L486.45 189.80M457.30 186.05L460.20 188.95M457.30 188.95L460.20 186.05M509.80 151.05L512.70 153.95M509.80 153.95L512.70 151.05M532.95 156.05L535.85 158.95M532.95 158.95L535.85 156.05M528.55 161.65L531.45 164.55M528.55 164.55L531.45 161.65M519.80 167.30L522.70 170.20M519.80 170.20L522.70 167.30M504.15 176.65L507.05 179.55M504.15 179.55L507.05 176.65M510.80 177.30L513.70 180.20M510.80 180.20L513.70 177.30M509.15 185.45L512.05 188.35M509.15 188.35L512.05 185.45M497.95 184.80L500.85 187.70M497.95 187.70L500.85 184.80M502.30 186.05L505.20 188.95M502.30 188.95L505.20 186.05M492.30 184.15L495.20 187.05M492.30 187.05L495.20 184.15M502.30 189.80L505.20 192.70M502.30 192.70L505.20 189.80M497.30 192.95L500.20 195.85M497.30 195.85L500.20 192.95M486.05 192.30L488.95 195.20M486.05 195.20L488.95 192.30M479.80 189.80L482.70 192.70M479.80 192.70L482.70 189.80M587.95 81.65L590.85 84.55M587.95 84.55L590.85 81.65M586.65 101.45L589.55 104.35M586.65 104.35L589.55 101.45M552.30 104.15L555.20 107.05M552.30 107.05L555.20 104.15M454.85 171.25L457.75 174.15M454.85 174.15L457.75 171.25M448.25 174.45L451.15 177.35M448.25 177.35L451.15 174.45M464.55 180.25L467.45 183.15M464.55 183.15L467.45 180.25M457.25 184.55L460.15 187.45M457.25 187.45L460.15 184.55M463.05 191.25L465.95 194.15M463.05 194.15L465.95 191.25M470.85 191.25L473.75 194.15M470.85 194.15L473.75 191.25M472.45 195.15L475.35 198.05M472.45 198.05L475.35 195.15M476.35 186.55L479.25 189.45M476.35 189.45L479.25 186.55M480.25 189.55L483.15 192.45M480.25 192.45L483.15 189.55M486.15 192.35L489.05 195.25M486.15 195.25L489.05 192.35M446.55 188.05L449.45 190.95M446.55 190.95L449.45 188.05M444.55 178.55L447.45 181.45M444.55 181.45L447.45 178.55M449.55 182.55L452.45 185.45M449.55 185.45L452.45 182.55M442.55 185.05L445.45 187.95M442.55 187.95L445.45 185.05"/><g fill="#0072BD"><rect x="117.70" y="335.95" width="2.6" height="2.6"/><rect x="198.45" y="349.30" width="2.6" height="2.6"/><rect x="225.30" y="415.60" width="2.6" height="2.6"/><rect x="240.00" y="437.00" width="2.6" height="2.6"/><rect x="225.20" y="446.00" width="2.6" height="2.6"/><rect x="250.20" y="445.30" width="2.6" height="2.6"/><rect x="251.80" y="337.10" width="2.6" height="2.6"/><rect x="246.20" y="344.95" width="2.6" height="2.6"/><rect x="252.80" y="357.70" width="2.6" height="2.6"/><rect x="254.95" y="360.95" width="2.6" height="2.6"/><rect x="249.95" y="364.70" width="2.6" height="2.6"/><rect x="248.70" y="367.20" width="2.6" height="2.6"/><rect x="253.30" y="371.20" width="2.6" height="2.6"/><rect x="252.45" y="377.20" width="2.6" height="2.6"/><rect x="254.30" y="378.45" width="2.6" height="2.6"/><rect x="256.20" y="378.45" width="2.6" height="2.6"/><rect x="248.10" y="383.10" width="2.6" height="2.6"/><rect x="256.20" y="384.70" width="2.6" height="2.6"/><rect x="256.20" y="386.20" width="2.6" height="2.6"/><rect x="250.60" y="387.80" width="2.6" height="2.6"/><rect x="246.80" y="392.70" width="2.6" height="2.6"/><rect x="251.80" y="393.45" width="2.6" height="2.6"/><rect x="255.60" y="391.20" width="2.6" height="2.6"/><rect x="255.60" y="394.95" width="2.6" height="2.6"/><rect x="249.70" y="398.10" width="2.6" height="2.6"/><rect x="254.95" y="398.10" width="2.6" height="2.6"/><rect x="255.60" y="400.60" width="2.6" height="2.6"/><rect x="253.70" y="402.45" width="2.6" height="2.6"/><rect x="251.20" y="403.10" width="2.6" height="2.6"/><rect x="256.20" y="403.70" width="2.6" height="2.6"/><rect x="248.70" y="405.60" width="2.6" height="2.6"/><rect x="254.30" y="406.80" width="2.6" height="2.6"/><rect x="256.20" y="406.20" width="2.6" height="2.6"/><rect x="250.70" y="421.70" width="2.6" height="2.6"/><rect x="253.40" y="435.00" width="2.6" height="2.6"/><rect x="255.44" y="404.69" width="2.6" height="2.6"/><rect x="255.63" y="410.24" width="2.6" height="2.6"/><rect x="253.91" y="420.98" width="2.6" height="2.6"/><rect x="256.38" y="395.25" width="2.6" height="2.6"/><rect x="254.45" y="405.59" width="2.6" height="2.6"/><rect x="255.20" y="436.52" width="2.6" height="2.6"/><rect x="255.22" y="429.83" width="2.6" height="2.6"/><rect x="254.18" y="421.54" width="2.6" height="2.6"/><rect x="256.48" y="421.36" width="2.6" height="2.6"/><rect x="256.07" y="416.67" width="2.6" height="2.6"/><rect x="253.90" y="422.90" width="2.6" height="2.6"/><rect x="255.59" y="426.55" width="2.6" height="2.6"/><rect x="253.80" y="407.35" width="2.6" height="2.6"/><rect x="255.21" y="431.05" width="2.6" height="2.6"/><rect x="256.51" y="424.89" width="2.6" height="2.6"/><rect x="256.65" y="424.69" width="2.6" height="2.6"/><rect x="256.26" y="411.29" width="2.6" height="2.6"/><rect x="256.69" y="413.37" width="2.6" height="2.6"/><rect x="254.01" y="431.61" width="2.6" height="2.6"/><rect x="254.39" y="400.41" width="2.6" height="2.6"/><rect x="255.10" y="435.25" width="2.6" height="2.6"/><rect x="254.66" y="421.02" width="2.6" height="2.6"/><rect x="254.93" y="416.00" width="2.6" height="2.6"/><rect x="255.57" y="409.44" width="2.6" height="2.6"/><rect x="256.59" y="419.24" width="2.6" height="2.6"/><rect x="256.67" y="423.34" width="2.6" height="2.6"/><rect x="256.87" y="430.67" width="2.6" height="2.6"/><rect x="254.22" y="422.89" width="2.6" height="2.6"/><rect x="256.79" y="430.85" width="2.6" height="2.6"/><rect x="255.52" y="432.70" width="2.6" height="2.6"/><rect x="254.38" y="424.68" width="2.6" height="2.6"/><rect x="255.54" y="429.63" width="2.6" height="2.6"/><rect x="253.90" y="406.67" width="2.6" height="2.6"/><rect x="256.87" y="430.57" width="2.6" height="2.6"/><rect x="256.26" y="398.42" width="2.6" height="2.6"/><rect x="254.18" y="411.94" width="2.6" height="2.6"/><rect x="256.16" y="407.04" width="2.6" height="2.6"/><rect x="253.84" y="431.36" width="2.6" height="2.6"/><rect x="253.84" y="420.51" width="2.6" height="2.6"/><rect x="254.76" y="424.87" width="2.6" height="2.6"/></g><path fill="none" stroke="#D95319" stroke-width="0.62" d="M254.35 448.44L257.25 451.34M254.35 451.34L257.25 448.44M256.06 424.84L258.96 427.74M256.06 427.74L258.96 424.84M256.59 443.31L259.49 446.21M256.59 446.21L259.49 443.31M256.35 422.92L259.25 425.82M256.35 425.82L259.25 422.92M254.40 438.06L257.30 440.96M254.40 440.96L257.30 438.06M256.71 441.62L259.61 444.52M256.71 444.52L259.61 441.62M257.57 446.59L260.47 449.49M257.57 449.49L260.47 446.59M252.84 452.93L255.74 455.83M252.84 455.83L255.74 452.93M257.04 449.13L259.94 452.03M257.04 452.03L259.94 449.13M253.80 450.26L256.70 453.16M253.80 453.16L256.70 450.26M256.26 443.71L259.16 446.61M256.26 446.61L259.16 443.71M256.13 423.90L259.03 426.80M256.13 426.80L259.03 423.90M256.30 446.64L259.20 449.54M256.30 449.54L259.20 446.64M256.72 434.56L259.62 437.46M256.72 437.46L259.62 434.56M256.81 446.18L259.71 449.08M256.81 449.08L259.71 446.18M256.63 440.85L259.53 443.75M256.63 443.75L259.53 440.85M256.78 437.99L259.68 440.89M256.78 440.89L259.68 437.99M255.26 437.31L258.16 440.21M255.26 440.21L258.16 437.31M256.01 441.59L258.91 444.49M256.01 444.49L258.91 441.59M253.85 451.85L256.75 454.75M253.85 454.75L256.75 451.85M255.80 437.84L258.70 440.74M255.80 440.74L258.70 437.84M253.92 444.83L256.82 447.73M253.92 447.73L256.82 444.83M248.28 456.43L251.18 459.33M248.28 459.33L251.18 456.43M255.08 439.33L257.98 442.23M255.08 442.23L257.98 439.33M255.92 445.69L258.82 448.59M255.92 448.59L258.82 445.69M254.48 449.86L257.38 452.76M254.48 452.76L257.38 449.86M255.78 431.19L258.68 434.09M255.78 434.09L258.68 431.19M256.48 436.09L259.38 438.99M256.48 438.99L259.38 436.09M257.14 439.87L260.04 442.77M257.14 442.77L260.04 439.87M255.43 443.39L258.33 446.29M255.43 446.29L258.33 443.39M254.33 420.81L257.23 423.71M254.33 423.71L257.23 420.81M258.47 444.78L261.37 447.68M258.47 447.68L261.37 444.78M255.44 432.94L258.34 435.84M255.44 435.84L258.34 432.94M256.67 449.74L259.57 452.64M256.67 452.64L259.57 449.74M256.36 436.67L259.26 439.57M256.36 439.57L259.26 436.67M255.57 424.35L258.47 427.25M255.57 427.25L258.47 424.35M255.96 436.56L258.86 439.46M255.96 439.46L258.86 436.56M256.28 421.28L259.18 424.18M256.28 424.18L259.18 421.28M254.52 443.63L257.42 446.53M254.52 446.53L257.42 443.63M256.67 439.59L259.57 442.49M256.67 442.49L259.57 439.59M255.46 434.63L258.36 437.53M255.46 437.53L258.36 434.63M242.74 460.13L245.64 463.03M242.74 463.03L245.64 460.13M255.88 420.97L258.78 423.87M255.88 423.87L258.78 420.97M256.24 435.69L259.14 438.59M256.24 438.59L259.14 435.69M256.88 435.53L259.78 438.43M256.88 438.43L259.78 435.53M255.96 446.94L258.86 449.84M255.96 449.84L258.86 446.94M243.89 457.51L246.79 460.41M243.89 460.41L246.79 457.51M255.91 438.17L258.81 441.07M255.91 441.07L258.81 438.17M256.74 438.10L259.64 441.00M256.74 441.00L259.64 438.10M251.95 451.48L254.85 454.38M251.95 454.38L254.85 451.48M256.22 427.45L259.12 430.35M256.22 430.35L259.12 427.45M257.20 441.37L260.10 444.27M257.20 444.27L260.10 441.37M255.52 441.76L258.42 444.66M255.52 444.66L258.42 441.76M257.64 444.63L260.54 447.53M257.64 447.53L260.54 444.63M257.92 441.32L260.82 444.22M257.92 444.22L260.82 441.32M256.00 444.01L258.90 446.91M256.00 446.91L258.90 444.01M248.76 456.98L251.66 459.88M248.76 459.88L251.66 456.98M255.48 441.43L258.38 444.33M255.48 444.33L258.38 441.43M256.45 435.18L259.35 438.08M256.45 438.08L259.35 435.18M253.73 451.35L256.63 454.25M253.73 454.25L256.63 451.35M251.99 451.60L254.89 454.50M251.99 454.50L254.89 451.60M254.97 426.09L257.87 428.99M254.97 428.99L257.87 426.09M240.48 458.83L243.38 461.73M240.48 461.73L243.38 458.83M257.04 422.57L259.94 425.47M257.04 425.47L259.94 422.57M255.41 449.02L258.31 451.92M255.41 451.92L258.31 449.02M254.25 451.81L257.15 454.71M254.25 454.71L257.15 451.81M256.03 434.49L258.93 437.39M256.03 437.39L258.93 434.49M257.25 441.05L260.15 443.95M257.25 443.95L260.15 441.05M256.79 442.68L259.69 445.58M256.79 445.58L259.69 442.68M245.09 456.35L247.99 459.25M245.09 459.25L247.99 456.35M257.18 447.83L260.08 450.73M257.18 450.73L260.08 447.83M257.17 449.75L260.07 452.65M257.17 452.65L260.07 449.75M256.20 445.27L259.10 448.17M256.20 448.17L259.10 445.27M256.55 435.46L259.45 438.36M256.55 438.36L259.45 435.46M256.28 431.66L259.18 434.56M256.28 434.56L259.18 431.66M255.52 437.05L258.42 439.95M255.52 439.95L258.42 437.05M256.02 435.45L258.92 438.35M256.02 438.35L258.92 435.45M255.42 447.20L258.32 450.10M255.42 450.10L258.32 447.20M255.52 441.90L258.42 444.80M255.52 444.80L258.42 441.90M255.38 438.51L258.28 441.41M255.38 441.41L258.28 438.51M243.60 456.71L246.50 459.61M243.60 459.61L246.50 456.71M252.61 452.97L255.51 455.87M252.61 455.87L255.51 452.97M254.41 451.44L257.31 454.34M254.41 454.34L257.31 451.44M258.38 442.88L261.28 445.78M258.38 445.78L261.28 442.88M255.71 446.57L258.61 449.47M255.71 449.47L258.61 446.57M255.47 434.98L258.37 437.88M255.47 437.88L258.37 434.98M254.97 430.99L257.87 433.89M254.97 433.89L257.87 430.99M257.38 434.78L260.28 437.68M257.38 437.68L260.28 434.78M256.12 444.16L259.02 447.06M256.12 447.06L259.02 444.16M256.39 425.72L259.29 428.62M256.39 428.62L259.29 425.72M256.70 436.83L259.60 439.73M256.70 439.73L259.60 436.83M248.49 454.20L251.39 457.10M248.49 457.10L251.39 454.20M257.32 439.23L260.22 442.13M257.32 442.13L260.22 439.23M255.69 432.27L258.59 435.17M255.69 435.17L258.59 432.27M254.76 450.80L257.66 453.70M254.76 453.70L257.66 450.80M254.88 426.83L257.78 429.73M254.88 429.73L257.78 426.83M237.13 460.75L240.03 463.65M237.13 463.65L240.03 460.75M256.33 437.04L259.23 439.94M256.33 439.94L259.23 437.04M256.41 440.19L259.31 443.09M256.41 443.09L259.31 440.19M255.08 452.71L257.98 455.61M255.08 455.61L257.98 452.71M256.28 430.54L259.18 433.44M256.28 433.44L259.18 430.54M256.56 439.04L259.46 441.94M256.56 441.94L259.46 439.04M254.92 451.72L257.82 454.62M254.92 454.62L257.82 451.72M254.39 450.39L257.29 453.29M254.39 453.29L257.29 450.39M256.17 440.59L259.07 443.49M256.17 443.49L259.07 440.59M238.76 459.55L241.66 462.45M238.76 462.45L241.66 459.55M255.33 448.62L258.23 451.52M255.33 451.52L258.23 448.62M254.00 440.30L256.90 443.20M254.00 443.20L256.90 440.30M257.28 439.12L260.18 442.02M257.28 442.02L260.18 439.12M240.29 459.11L243.19 462.01M240.29 462.01L243.19 459.11M255.73 435.64L258.63 438.54M255.73 438.54L258.63 435.64M255.71 443.79L258.61 446.69M255.71 446.69L258.61 443.79M253.67 451.63L256.57 454.53M253.67 454.53L256.57 451.63M254.65 422.23L257.55 425.13M254.65 425.13L257.55 422.23M257.55 441.92L260.45 444.82M257.55 444.82L260.45 441.92M248.86 456.17L251.76 459.07M248.86 459.07L251.76 456.17M256.54 420.68L259.44 423.58M256.54 423.58L259.44 420.68M256.30 449.92L259.20 452.82M256.30 452.82L259.20 449.92M255.40 446.11L258.30 449.01M255.40 449.01L258.30 446.11M249.86 453.27L252.76 456.17M249.86 456.17L252.76 453.27M255.56 451.10L258.46 454.00M255.56 454.00L258.46 451.10M247.06 453.83L249.96 456.73M247.06 456.73L249.96 453.83M256.66 444.10L259.56 447.00M256.66 447.00L259.56 444.10M256.66 446.61L259.56 449.51M256.66 449.51L259.56 446.61M256.19 430.62L259.09 433.52M256.19 433.52L259.09 430.62M257.18 441.24L260.08 444.14M257.18 444.14L260.08 441.24M255.75 450.12L258.65 453.02M255.75 453.02L258.65 450.12M244.11 458.72L247.01 461.62M244.11 461.62L247.01 458.72M255.64 446.13L258.54 449.03M255.64 449.03L258.54 446.13M254.78 447.68L257.68 450.58M254.78 450.58L257.68 447.68M257.62 445.54L260.52 448.44M257.62 448.44L260.52 445.54M255.03 442.67L257.93 445.57M255.03 445.57L257.93 442.67M255.98 422.04L258.88 424.94M255.98 424.94L258.88 422.04M255.22 446.88L258.12 449.78M255.22 449.78L258.12 446.88M256.28 429.74L259.18 432.64M256.28 432.64L259.18 429.74M255.71 423.44L258.61 426.34M255.71 426.34L258.61 423.44M255.84 435.90L258.74 438.80M255.84 438.80L258.74 435.90M257.36 439.78L260.26 442.68M257.36 442.68L260.26 439.78M255.00 425.78L257.90 428.68M255.00 428.68L257.90 425.78M256.26 431.75L259.16 434.65M256.26 434.65L259.16 431.75M82.55 317.05L85.45 319.95M82.55 319.95L85.45 317.05M52.30 441.55L55.20 444.45M52.30 444.45L55.20 441.55M71.05 475.30L73.95 478.20M71.05 478.20L73.95 475.30M101.55 490.80L104.45 493.70M101.55 493.70L104.45 490.80M147.30 440.55L150.20 443.45M147.30 443.45L150.20 440.55M148.55 492.80L151.45 495.70M148.55 495.70L151.45 492.80M149.95 492.55L152.85 495.45M149.95 495.45L152.85 492.55M162.75 492.55L165.65 495.45M162.75 495.45L165.65 492.55M204.80 417.30L207.70 420.20M204.80 420.20L207.70 417.30M232.45 417.55L235.35 420.45M232.45 420.45L235.35 417.55M220.65 431.45L223.55 434.35M220.65 434.35L223.55 431.45M245.05 430.55L247.95 433.45M245.05 433.45L247.95 430.55M250.05 436.45L252.95 439.35M250.05 439.35L252.95 436.45M250.55 440.75L253.45 443.65M250.55 443.65L253.45 440.75M198.55 444.15L201.45 447.05M198.55 447.05L201.45 444.15M239.80 448.55L242.70 451.45M239.80 451.45L242.70 448.55M239.15 451.05L242.05 453.95M239.15 453.95L242.05 451.05M229.80 455.45L232.70 458.35M229.80 458.35L232.70 455.45M236.65 456.05L239.55 458.95M236.65 458.95L239.55 456.05M234.80 462.95L237.70 465.85M234.80 465.85L237.70 462.95M239.15 462.95L242.05 465.85M239.15 465.85L242.05 462.95M217.95 470.45L220.85 473.35M217.95 473.35L220.85 470.45M228.55 470.45L231.45 473.35M228.55 473.35L231.45 470.45M199.75 476.15L202.65 479.05M199.75 479.05L202.65 476.15M203.95 480.05L206.85 482.95M203.95 482.95L206.85 480.05M213.95 478.55L216.85 481.45M213.95 481.45L216.85 478.55M193.75 484.05L196.65 486.95M193.75 486.95L196.65 484.05"/><g fill="#0072BD"><rect x="493.60" y="382.40" width="2.6" height="2.6"/><rect x="421.20" y="345.20" width="2.6" height="2.6"/><rect x="488.70" y="345.60" width="2.6" height="2.6"/><rect x="511.70" y="338.40" width="2.6" height="2.6"/><rect x="514.80" y="338.00" width="2.6" height="2.6"/><rect x="516.80" y="339.00" width="2.6" height="2.6"/><rect x="519.90" y="337.00" width="2.6" height="2.6"/><rect x="518.90" y="340.00" width="2.6" height="2.6"/><rect x="520.50" y="341.70" width="2.6" height="2.6"/><rect x="530.00" y="338.60" width="2.6" height="2.6"/><rect x="533.10" y="338.60" width="2.6" height="2.6"/><rect x="544.20" y="339.00" width="2.6" height="2.6"/><rect x="550.30" y="339.00" width="2.6" height="2.6"/><rect x="552.40" y="341.00" width="2.6" height="2.6"/><rect x="555.40" y="342.70" width="2.6" height="2.6"/><rect x="578.80" y="344.10" width="2.6" height="2.6"/><rect x="593.00" y="349.20" width="2.6" height="2.6"/><rect x="425.23" y="336.15" width="2.6" height="2.6"/><rect x="417.35" y="335.61" width="2.6" height="2.6"/><rect x="409.48" y="331.04" width="2.6" height="2.6"/><rect x="488.31" y="338.62" width="2.6" height="2.6"/><rect x="484.09" y="336.58" width="2.6" height="2.6"/><rect x="429.34" y="337.01" width="2.6" height="2.6"/><rect x="419.03" y="335.54" width="2.6" height="2.6"/><rect x="503.74" y="337.45" width="2.6" height="2.6"/><rect x="491.74" y="337.50" width="2.6" height="2.6"/><rect x="421.03" y="331.58" width="2.6" height="2.6"/><rect x="432.77" y="332.86" width="2.6" height="2.6"/><rect x="494.85" y="334.36" width="2.6" height="2.6"/><rect x="497.94" y="338.63" width="2.6" height="2.6"/><rect x="473.04" y="337.18" width="2.6" height="2.6"/><rect x="454.03" y="336.33" width="2.6" height="2.6"/><rect x="411.42" y="336.20" width="2.6" height="2.6"/><rect x="504.62" y="338.20" width="2.6" height="2.6"/><rect x="431.77" y="333.18" width="2.6" height="2.6"/><rect x="501.46" y="333.27" width="2.6" height="2.6"/><rect x="494.05" y="334.80" width="2.6" height="2.6"/><rect x="454.31" y="333.35" width="2.6" height="2.6"/><rect x="445.73" y="336.48" width="2.6" height="2.6"/><rect x="417.95" y="333.41" width="2.6" height="2.6"/><rect x="407.62" y="337.37" width="2.6" height="2.6"/><rect x="407.86" y="333.26" width="2.6" height="2.6"/><rect x="457.26" y="334.47" width="2.6" height="2.6"/><rect x="450.16" y="331.93" width="2.6" height="2.6"/><rect x="421.24" y="339.78" width="2.6" height="2.6"/><rect x="443.74" y="335.92" width="2.6" height="2.6"/><rect x="429.30" y="337.25" width="2.6" height="2.6"/><rect x="437.61" y="334.99" width="2.6" height="2.6"/><rect x="459.97" y="334.00" width="2.6" height="2.6"/><rect x="500.90" y="337.12" width="2.6" height="2.6"/><rect x="424.51" y="335.08" width="2.6" height="2.6"/><rect x="484.09" y="335.19" width="2.6" height="2.6"/><rect x="434.99" y="334.08" width="2.6" height="2.6"/><rect x="419.49" y="334.05" width="2.6" height="2.6"/><rect x="476.04" y="336.12" width="2.6" height="2.6"/><rect x="499.88" y="339.39" width="2.6" height="2.6"/><rect x="507.73" y="335.95" width="2.6" height="2.6"/><rect x="405.78" y="333.09" width="2.6" height="2.6"/><rect x="485.29" y="340.76" width="2.6" height="2.6"/><rect x="443.48" y="337.52" width="2.6" height="2.6"/><rect x="490.41" y="335.47" width="2.6" height="2.6"/><rect x="431.06" y="335.56" width="2.6" height="2.6"/><rect x="415.63" y="336.29" width="2.6" height="2.6"/><rect x="440.37" y="336.66" width="2.6" height="2.6"/><rect x="405.20" y="333.83" width="2.6" height="2.6"/><rect x="407.74" y="335.80" width="2.6" height="2.6"/><rect x="438.35" y="337.80" width="2.6" height="2.6"/><rect x="430.75" y="339.03" width="2.6" height="2.6"/><rect x="444.96" y="338.12" width="2.6" height="2.6"/><rect x="422.44" y="335.21" width="2.6" height="2.6"/><rect x="418.65" y="334.77" width="2.6" height="2.6"/><rect x="473.64" y="336.23" width="2.6" height="2.6"/><rect x="452.32" y="335.81" width="2.6" height="2.6"/><rect x="426.54" y="335.67" width="2.6" height="2.6"/><rect x="456.65" y="335.49" width="2.6" height="2.6"/><rect x="485.12" y="331.72" width="2.6" height="2.6"/><rect x="450.89" y="338.23" width="2.6" height="2.6"/><rect x="425.81" y="334.31" width="2.6" height="2.6"/><rect x="444.66" y="335.46" width="2.6" height="2.6"/><rect x="426.49" y="337.35" width="2.6" height="2.6"/><rect x="453.21" y="333.24" width="2.6" height="2.6"/><rect x="406.74" y="334.21" width="2.6" height="2.6"/><rect x="422.46" y="335.98" width="2.6" height="2.6"/><rect x="424.77" y="335.38" width="2.6" height="2.6"/><rect x="408.25" y="333.56" width="2.6" height="2.6"/><rect x="503.81" y="331.64" width="2.6" height="2.6"/><rect x="442.67" y="332.96" width="2.6" height="2.6"/><rect x="500.49" y="334.79" width="2.6" height="2.6"/><rect x="481.65" y="333.50" width="2.6" height="2.6"/><rect x="452.73" y="336.43" width="2.6" height="2.6"/><rect x="497.18" y="337.19" width="2.6" height="2.6"/><rect x="500.35" y="338.04" width="2.6" height="2.6"/><rect x="471.31" y="335.12" width="2.6" height="2.6"/><rect x="488.20" y="334.22" width="2.6" height="2.6"/><rect x="456.52" y="332.92" width="2.6" height="2.6"/><rect x="471.06" y="335.30" width="2.6" height="2.6"/><rect x="503.17" y="335.35" width="2.6" height="2.6"/><rect x="507.29" y="341.04" width="2.6" height="2.6"/><rect x="507.97" y="338.94" width="2.6" height="2.6"/><rect x="472.65" y="339.60" width="2.6" height="2.6"/><rect x="414.82" y="335.52" width="2.6" height="2.6"/><rect x="508.80" y="336.49" width="2.6" height="2.6"/><rect x="418.51" y="333.99" width="2.6" height="2.6"/><rect x="468.79" y="333.10" width="2.6" height="2.6"/><rect x="503.74" y="335.42" width="2.6" height="2.6"/><rect x="423.49" y="338.74" width="2.6" height="2.6"/><rect x="405.44" y="334.30" width="2.6" height="2.6"/><rect x="497.50" y="338.97" width="2.6" height="2.6"/><rect x="486.21" y="338.42" width="2.6" height="2.6"/><rect x="497.68" y="333.01" width="2.6" height="2.6"/><rect x="421.83" y="333.47" width="2.6" height="2.6"/><rect x="473.01" y="334.07" width="2.6" height="2.6"/><rect x="485.09" y="339.53" width="2.6" height="2.6"/><rect x="450.19" y="334.93" width="2.6" height="2.6"/><rect x="406.92" y="334.19" width="2.6" height="2.6"/><rect x="464.09" y="332.09" width="2.6" height="2.6"/><rect x="465.66" y="335.98" width="2.6" height="2.6"/><rect x="415.84" y="332.48" width="2.6" height="2.6"/><rect x="455.95" y="337.82" width="2.6" height="2.6"/><rect x="405.28" y="335.98" width="2.6" height="2.6"/><rect x="411.05" y="331.48" width="2.6" height="2.6"/><rect x="458.25" y="333.21" width="2.6" height="2.6"/><rect x="432.91" y="337.06" width="2.6" height="2.6"/><rect x="424.99" y="330.04" width="2.6" height="2.6"/><rect x="411.92" y="334.77" width="2.6" height="2.6"/><rect x="413.63" y="331.71" width="2.6" height="2.6"/><rect x="454.77" y="332.87" width="2.6" height="2.6"/><rect x="446.05" y="337.19" width="2.6" height="2.6"/><rect x="409.52" y="331.89" width="2.6" height="2.6"/><rect x="498.10" y="337.04" width="2.6" height="2.6"/><rect x="492.65" y="337.84" width="2.6" height="2.6"/><rect x="444.79" y="335.53" width="2.6" height="2.6"/><rect x="497.24" y="335.47" width="2.6" height="2.6"/><rect x="419.38" y="335.81" width="2.6" height="2.6"/><rect x="435.78" y="336.67" width="2.6" height="2.6"/><rect x="458.08" y="337.87" width="2.6" height="2.6"/><rect x="404.98" y="332.60" width="2.6" height="2.6"/><rect x="432.98" y="332.91" width="2.6" height="2.6"/><rect x="478.20" y="335.46" width="2.6" height="2.6"/><rect x="451.61" y="336.57" width="2.6" height="2.6"/><rect x="493.99" y="337.05" width="2.6" height="2.6"/><rect x="437.71" y="335.57" width="2.6" height="2.6"/><rect x="467.80" y="330.56" width="2.6" height="2.6"/><rect x="473.63" y="334.72" width="2.6" height="2.6"/><rect x="501.94" y="335.64" width="2.6" height="2.6"/><rect x="449.70" y="336.63" width="2.6" height="2.6"/><rect x="496.42" y="335.68" width="2.6" height="2.6"/><rect x="486.68" y="334.77" width="2.6" height="2.6"/><rect x="416.02" y="333.22" width="2.6" height="2.6"/><rect x="484.79" y="334.48" width="2.6" height="2.6"/><rect x="415.34" y="336.49" width="2.6" height="2.6"/><rect x="410.83" y="336.38" width="2.6" height="2.6"/><rect x="419.51" y="337.14" width="2.6" height="2.6"/><rect x="500.61" y="334.96" width="2.6" height="2.6"/><rect x="437.04" y="336.71" width="2.6" height="2.6"/><rect x="467.12" y="337.28" width="2.6" height="2.6"/><rect x="504.81" y="337.72" width="2.6" height="2.6"/><rect x="419.70" y="333.67" width="2.6" height="2.6"/><rect x="431.81" y="333.56" width="2.6" height="2.6"/><rect x="406.12" y="338.60" width="2.6" height="2.6"/><rect x="491.84" y="336.93" width="2.6" height="2.6"/><rect x="488.39" y="337.86" width="2.6" height="2.6"/><rect x="417.68" y="330.35" width="2.6" height="2.6"/><rect x="462.90" y="333.31" width="2.6" height="2.6"/><rect x="505.03" y="336.78" width="2.6" height="2.6"/><rect x="483.50" y="337.05" width="2.6" height="2.6"/><rect x="470.69" y="335.67" width="2.6" height="2.6"/><rect x="473.47" y="335.84" width="2.6" height="2.6"/><rect x="492.02" y="333.89" width="2.6" height="2.6"/><rect x="432.04" y="336.54" width="2.6" height="2.6"/><rect x="464.61" y="334.89" width="2.6" height="2.6"/><rect x="499.99" y="336.14" width="2.6" height="2.6"/><rect x="424.66" y="333.21" width="2.6" height="2.6"/><rect x="434.52" y="330.72" width="2.6" height="2.6"/><rect x="500.26" y="332.27" width="2.6" height="2.6"/><rect x="442.38" y="332.45" width="2.6" height="2.6"/><rect x="430.07" y="336.77" width="2.6" height="2.6"/><rect x="443.61" y="336.32" width="2.6" height="2.6"/><rect x="457.89" y="335.62" width="2.6" height="2.6"/><rect x="475.57" y="334.68" width="2.6" height="2.6"/><rect x="506.65" y="335.62" width="2.6" height="2.6"/><rect x="467.40" y="336.14" width="2.6" height="2.6"/></g><path fill="none" stroke="#D95319" stroke-width="0.62" d="M397.42 330.37L400.32 333.27M397.42 333.27L400.32 330.37M396.22 332.27L399.12 335.17M396.22 335.17L399.12 332.27M407.66 331.21L410.56 334.11M407.66 334.11L410.56 331.21M395.79 333.39L398.69 336.29M395.79 336.29L398.69 333.39M396.32 336.65L399.22 339.55M396.32 339.55L399.22 336.65M406.38 337.17L409.28 340.07M406.38 340.07L409.28 337.17M402.70 336.34L405.60 339.24M402.70 339.24L405.60 336.34M393.94 341.29L396.84 344.19M393.94 344.19L396.84 341.29M401.20 330.03L404.10 332.93M401.20 332.93L404.10 330.03M394.25 341.73L397.15 344.63M394.25 344.63L397.15 341.73M396.18 334.72L399.08 337.62M396.18 337.62L399.08 334.72M397.78 334.66L400.68 337.56M397.78 337.56L400.68 334.66M394.00 341.35L396.90 344.25M394.00 344.25L396.90 341.35M408.66 332.41L411.56 335.31M408.66 335.31L411.56 332.41M402.73 335.96L405.63 338.86M402.73 338.86L405.63 335.96M406.36 331.73L409.26 334.63M406.36 334.63L409.26 331.73M403.47 330.60L406.37 333.50M403.47 333.50L406.37 330.60M397.26 338.43L400.16 341.33M397.26 341.33L400.16 338.43M391.37 338.21L394.27 341.11M391.37 341.11L394.27 338.21M405.11 333.51L408.01 336.41M405.11 336.41L408.01 333.51M405.92 337.82L408.82 340.72M405.92 340.72L408.82 337.82M398.32 330.23L401.22 333.13M398.32 333.13L401.22 330.23M406.25 336.27L409.15 339.17M406.25 339.17L409.15 336.27M402.55 337.72L405.45 340.62M402.55 340.62L405.45 337.72M396.05 331.96L398.95 334.86M396.05 334.86L398.95 331.96M392.12 340.38L395.02 343.28M392.12 343.28L395.02 340.38M408.74 336.43L411.64 339.33M408.74 339.33L411.64 336.43M404.26 338.07L407.16 340.97M404.26 340.97L407.16 338.07M391.30 335.98L394.20 338.88M391.30 338.88L394.20 335.98M393.74 334.27L396.64 337.17M393.74 337.17L396.64 334.27M408.50 333.37L411.40 336.27M408.50 336.27L411.40 333.37M399.10 337.82L402.00 340.72M399.10 340.72L402.00 337.82M391.30 335.03L394.20 337.93M391.30 337.93L394.20 335.03M409.53 333.38L412.43 336.28M409.53 336.28L412.43 333.38M406.05 335.39L408.95 338.29M406.05 338.29L408.95 335.39M396.62 340.01L399.52 342.91M396.62 342.91L399.52 340.01M399.51 338.15L402.41 341.05M399.51 341.05L402.41 338.15M409.07 333.71L411.97 336.61M409.07 336.61L411.97 333.71M404.19 332.76L407.09 335.66M404.19 335.66L407.09 332.76M396.35 333.21L399.25 336.11M396.35 336.11L399.25 333.21M407.23 330.31L410.13 333.21M407.23 333.21L410.13 330.31M392.58 332.12L395.48 335.02M392.58 335.02L395.48 332.12M393.06 333.99L395.96 336.89M393.06 336.89L395.96 333.99M394.21 332.59L397.11 335.49M394.21 335.49L397.11 332.59M409.10 330.70L412.00 333.60M409.10 333.60L412.00 330.70M403.03 338.63L405.93 341.53M403.03 341.53L405.93 338.63M409.18 331.65L412.08 334.55M409.18 334.55L412.08 331.65M407.42 331.68L410.32 334.58M407.42 334.58L410.32 331.68M397.69 333.81L400.59 336.71M397.69 336.71L400.59 333.81M394.33 332.17L397.23 335.07M394.33 335.07L397.23 332.17M391.81 342.15L394.71 345.05M391.81 345.05L394.71 342.15M409.10 330.56L412.00 333.46M409.10 333.46L412.00 330.56M394.94 331.05L397.84 333.95M394.94 333.95L397.84 331.05M401.08 336.97L403.98 339.87M401.08 339.87L403.98 336.97M402.44 334.30L405.34 337.20M402.44 337.20L405.34 334.30M407.24 329.60L410.14 332.50M407.24 332.50L410.14 329.60M393.91 332.23L396.81 335.13M393.91 335.13L396.81 332.23M395.79 337.37L398.69 340.27M395.79 340.27L398.69 337.37M394.83 338.11L397.73 341.01M394.83 341.01L397.73 338.11M398.12 334.32L401.02 337.22M398.12 337.22L401.02 334.32M394.74 334.10L397.64 337.00M394.74 337.00L397.64 334.10M406.37 334.75L409.27 337.65M406.37 337.65L409.27 334.75M393.62 334.50L396.52 337.40M393.62 337.40L396.52 334.50M400.75 334.21L403.65 337.11M400.75 337.11L403.65 334.21M400.37 331.03L403.27 333.93M400.37 333.93L403.27 331.03M391.20 340.41L394.10 343.31M391.20 343.31L394.10 340.41M406.66 335.12L409.56 338.02M406.66 338.02L409.56 335.12M393.08 333.34L395.98 336.24M393.08 336.24L395.98 333.34M402.14 331.68L405.04 334.58M402.14 334.58L405.04 331.68M404.08 337.75L406.98 340.65M404.08 340.65L406.98 337.75M408.16 331.05L411.06 333.95M408.16 333.95L411.06 331.05M396.83 335.36L399.73 338.26M396.83 338.26L399.73 335.36M397.47 338.25L400.37 341.15M397.47 341.15L400.37 338.25M394.29 334.06L397.19 336.96M394.29 336.96L397.19 334.06M405.42 336.94L408.32 339.84M405.42 339.84L408.32 336.94M396.23 333.91L399.13 336.81M396.23 336.81L399.13 333.91M402.38 336.94L405.28 339.84M402.38 339.84L405.28 336.94M394.88 335.88L397.78 338.78M394.88 338.78L397.78 335.88M393.18 341.85L396.08 344.75M393.18 344.75L396.08 341.85M393.70 339.36L396.60 342.26M393.70 342.26L396.60 339.36M403.68 329.80L406.58 332.70M403.68 332.70L406.58 329.80M407.82 337.82L410.72 340.72M407.82 340.72L410.72 337.82M402.51 332.87L405.41 335.77M402.51 335.77L405.41 332.87M391.81 335.94L394.71 338.84M391.81 338.84L394.71 335.94M400.94 333.15L403.84 336.05M400.94 336.05L403.84 333.15M409.14 330.09L412.04 332.99M409.14 332.99L412.04 330.09M400.08 330.21L402.98 333.11M400.08 333.11L402.98 330.21M396.96 336.56L399.86 339.46M396.96 339.46L399.86 336.56M399.88 330.39L402.78 333.29M399.88 333.29L402.78 330.39M404.64 338.73L407.54 341.63M404.64 341.63L407.54 338.73M404.42 336.45L407.32 339.35M404.42 339.35L407.32 336.45M402.63 339.05L405.53 341.95M402.63 341.95L405.53 339.05M391.97 335.38L394.87 338.28M391.97 338.28L394.87 335.38M407.31 333.75L410.21 336.65M407.31 336.65L410.21 333.75M398.02 333.07L400.92 335.97M398.02 335.97L400.92 333.07M403.47 330.76L406.37 333.66M403.47 333.66L406.37 330.76M404.66 330.07L407.56 332.97M404.66 332.97L407.56 330.07M407.44 336.96L410.34 339.86M407.44 339.86L410.34 336.96M399.90 333.46L402.80 336.36M399.90 336.36L402.80 333.46M398.45 340.05L401.35 342.95M398.45 342.95L401.35 340.05M402.09 336.83L404.99 339.73M402.09 339.73L404.99 336.83M396.00 338.11L398.90 341.01M396.00 341.01L398.90 338.11M394.30 336.05L397.20 338.95M394.30 338.95L397.20 336.05M404.88 336.94L407.78 339.84M404.88 339.84L407.78 336.94M403.32 337.32L406.22 340.22M403.32 340.22L406.22 337.32M397.87 333.46L400.77 336.36M397.87 336.36L400.77 333.46M397.51 333.40L400.41 336.30M397.51 336.30L400.41 333.40M397.50 332.08L400.40 334.98M397.50 334.98L400.40 332.08M401.20 333.28L404.10 336.18M401.20 336.18L404.10 333.28M398.66 338.67L401.56 341.57M398.66 341.57L401.56 338.67M408.10 333.81L411.00 336.71M408.10 336.71L411.00 333.81M408.91 331.61L411.81 334.51M408.91 334.51L411.81 331.61M404.96 337.11L407.86 340.01M404.96 340.01L407.86 337.11M395.45 332.61L398.35 335.51M395.45 335.51L398.35 332.61M395.87 335.45L398.77 338.35M395.87 338.35L398.77 335.45M406.66 333.26L409.56 336.16M406.66 336.16L409.56 333.26M392.51 340.52L395.41 343.42M392.51 343.42L395.41 340.52M400.10 339.74L403.00 342.64M400.10 342.64L403.00 339.74M398.10 334.12L401.00 337.02M398.10 337.02L401.00 334.12M398.55 340.06L401.45 342.96M398.55 342.96L401.45 340.06M403.15 336.15L406.05 339.05M403.15 339.05L406.05 336.15M406.63 334.74L409.53 337.64M406.63 337.64L409.53 334.74M392.45 334.67L395.35 337.57M392.45 337.57L395.35 334.67M396.84 330.88L399.74 333.78M396.84 333.78L399.74 330.88M400.59 339.75L403.49 342.65M400.59 342.65L403.49 339.75M397.54 338.76L400.44 341.66M397.54 341.66L400.44 338.76M406.19 335.36L409.09 338.26M406.19 338.26L409.09 335.36M403.22 338.07L406.12 340.97M403.22 340.97L406.12 338.07M405.35 332.50L408.25 335.40M405.35 335.40L408.25 332.50M394.61 335.99L397.51 338.89M394.61 338.89L397.51 335.99M399.83 335.11L402.73 338.01M399.83 338.01L402.73 335.11M409.13 330.85L412.03 333.75M409.13 333.75L412.03 330.85M400.88 339.81L403.78 342.71M400.88 342.71L403.78 339.81M396.72 331.10L399.62 334.00M396.72 334.00L399.62 331.10M398.47 332.89L401.37 335.79M398.47 335.79L401.37 332.89M406.32 337.23L409.22 340.13M406.32 340.13L409.22 337.23M406.87 334.09L409.77 336.99M406.87 336.99L409.77 334.09M396.15 338.06L399.05 340.96M396.15 340.96L399.05 338.06M394.66 338.43L397.56 341.33M394.66 341.33L397.56 338.43M393.96 340.90L396.86 343.80M393.96 343.80L396.86 340.90M409.00 337.38L411.90 340.28M409.00 340.28L411.90 337.38M396.58 329.87L399.48 332.77M396.58 332.77L399.48 329.87M391.95 335.44L394.85 338.34M391.95 338.34L394.85 335.44M406.42 338.30L409.32 341.20M406.42 341.20L409.32 338.30M395.50 340.62L398.40 343.52M395.50 343.52L398.40 340.62M391.94 337.95L394.84 340.85M391.94 340.85L394.84 337.95M394.81 340.59L397.71 343.49M394.81 343.49L397.71 340.59M401.17 334.11L404.07 337.01M401.17 337.01L404.07 334.11M403.18 337.42L406.08 340.32M403.18 340.32L406.08 337.42M397.99 338.26L400.89 341.16M397.99 341.16L400.89 338.26M393.16 332.69L396.06 335.59M393.16 335.59L396.06 332.69M392.66 341.55L395.56 344.45M392.66 344.45L395.56 341.55M397.98 339.35L400.88 342.25M397.98 342.25L400.88 339.35M395.10 332.65L398.00 335.55M395.10 335.55L398.00 332.65M401.32 334.67L404.22 337.57M401.32 337.57L404.22 334.67M392.09 341.38L394.99 344.28M392.09 344.28L394.99 341.38M393.72 331.51L396.62 334.41M393.72 334.41L396.62 331.51M398.61 337.25L401.51 340.15M398.61 340.15L401.51 337.25M395.98 338.33L398.88 341.23M395.98 341.23L398.88 338.33M399.31 337.22L402.21 340.12M399.31 340.12L402.21 337.22M394.02 340.34L396.92 343.24M394.02 343.24L396.92 340.34M405.77 334.71L408.67 337.61M405.77 337.61L408.67 334.71M402.51 338.49L405.41 341.39M402.51 341.39L405.41 338.49M404.04 331.79L406.94 334.69M404.04 334.69L406.94 331.79M392.12 333.49L395.02 336.39M392.12 336.39L395.02 333.49M392.32 335.73L395.22 338.63M392.32 338.63L395.22 335.73M392.62 336.73L395.52 339.63M392.62 339.63L395.52 336.73M396.68 341.04L399.58 343.94M396.68 343.94L399.58 341.04M407.46 331.77L410.36 334.67M407.46 334.67L410.36 331.77M408.40 337.49L411.30 340.39M408.40 340.39L411.30 337.49M403.72 331.41L406.62 334.31M403.72 334.31L406.62 331.41M398.11 339.33L401.01 342.23M398.11 342.23L401.01 339.33M407.37 333.89L410.27 336.79M407.37 336.79L410.27 333.89M406.58 335.80L409.48 338.70M406.58 338.70L409.48 335.80M402.20 330.90L405.10 333.80M402.20 333.80L405.10 330.90M394.33 334.35L397.23 337.25M394.33 337.25L397.23 334.35M400.43 333.80L403.33 336.70M400.43 336.70L403.33 333.80M401.21 332.82L404.11 335.72M401.21 335.72L404.11 332.82M393.01 338.58L395.91 341.48M393.01 341.48L395.91 338.58M392.44 334.48L395.34 337.38M392.44 337.38L395.34 334.48M402.55 337.77L405.45 340.67M402.55 340.67L405.45 337.77M403.99 331.35L406.89 334.25M403.99 334.25L406.89 331.35M401.73 331.60L404.63 334.50M401.73 334.50L404.63 331.60M399.00 331.65L401.90 334.55M399.00 334.55L401.90 331.65M397.58 338.14L400.48 341.04M397.58 341.04L400.48 338.14M399.33 331.49L402.23 334.39M399.33 334.39L402.23 331.49M400.86 338.76L403.76 341.66M400.86 341.66L403.76 338.76M397.18 332.99L400.08 335.89M397.18 335.89L400.08 332.99M400.15 339.14L403.05 342.04M400.15 342.04L403.05 339.14M391.35 338.81L394.25 341.71M391.35 341.71L394.25 338.81M391.76 341.95L394.66 344.85M391.76 344.85L394.66 341.95M394.76 341.00L397.66 343.90M394.76 343.90L397.66 341.00M391.30 336.20L394.20 339.10M391.30 339.10L394.20 336.20M396.20 340.30L399.10 343.20M396.20 343.20L399.10 340.30M407.51 330.89L410.41 333.79M407.51 333.79L410.41 330.89M391.68 339.64L394.58 342.54M391.68 342.54L394.58 339.64M399.77 334.46L402.67 337.36M399.77 337.36L402.67 334.46M398.22 334.37L401.12 337.27M398.22 337.27L401.12 334.37M403.23 334.68L406.13 337.58M403.23 337.58L406.13 334.68M393.39 335.89L396.29 338.79M393.39 338.79L396.29 335.89M450.54 336.07L453.44 338.97M450.54 338.97L453.44 336.07M430.25 337.43L433.15 340.33M430.25 340.33L433.15 337.43M416.25 332.63L419.15 335.53M416.25 335.53L419.15 332.63M435.21 330.42L438.11 333.32M435.21 333.32L438.11 330.42M433.40 330.81L436.30 333.71M433.40 333.71L436.30 330.81M424.64 333.92L427.54 336.82M424.64 336.82L427.54 333.92M433.76 330.08L436.66 332.98M433.76 332.98L436.66 330.08M427.39 336.58L430.29 339.48M427.39 339.48L430.29 336.58M407.62 335.36L410.52 338.26M407.62 338.26L410.52 335.36M411.00 335.88L413.90 338.78M411.00 338.78L413.90 335.88M449.69 329.57L452.59 332.47M449.69 332.47L452.59 329.57M414.83 333.79L417.73 336.69M414.83 336.69L417.73 333.79M449.91 337.41L452.81 340.31M449.91 340.31L452.81 337.41M407.59 330.71L410.49 333.61M407.59 333.61L410.49 330.71M414.86 336.38L417.76 339.28M414.86 339.28L417.76 336.38M434.99 334.27L437.89 337.17M434.99 337.17L437.89 334.27M444.90 336.52L447.80 339.42M444.90 339.42L447.80 336.52M441.46 334.94L444.36 337.84M441.46 337.84L444.36 334.94M410.51 335.79L413.41 338.69M410.51 338.69L413.41 335.79M430.13 337.44L433.03 340.34M430.13 340.34L433.03 337.44M408.84 329.74L411.74 332.64M408.84 332.64L411.74 329.74M412.67 331.72L415.57 334.62M412.67 334.62L415.57 331.72M414.14 330.06L417.04 332.96M414.14 332.96L417.04 330.06M423.95 333.18L426.85 336.08M423.95 336.08L426.85 333.18M410.64 330.41L413.54 333.31M410.64 333.31L413.54 330.41M422.05 330.39L424.95 333.29M422.05 333.29L424.95 330.39M440.13 331.90L443.03 334.80M440.13 334.80L443.03 331.90M443.03 330.60L445.93 333.50M443.03 333.50L445.93 330.60M414.23 336.17L417.13 339.07M414.23 339.07L417.13 336.17M419.52 333.36L422.42 336.26M419.52 336.26L422.42 333.36M441.70 330.94L444.60 333.84M441.70 333.84L444.60 330.94M439.43 333.93L442.33 336.83M439.43 336.83L442.33 333.93M411.14 332.52L414.04 335.42M411.14 335.42L414.04 332.52M410.96 334.93L413.86 337.83M410.96 337.83L413.86 334.93M416.10 333.95L419.00 336.85M416.10 336.85L419.00 333.95M426.10 336.86L429.00 339.76M426.10 339.76L429.00 336.86M429.01 332.06L431.91 334.96M429.01 334.96L431.91 332.06M427.05 335.43L429.95 338.33M427.05 338.33L429.95 335.43M443.84 332.83L446.74 335.73M443.84 335.73L446.74 332.83M420.01 335.98L422.91 338.88M420.01 338.88L422.91 335.98M412.48 332.32L415.38 335.22M412.48 335.22L415.38 332.32M424.52 332.73L427.42 335.63M424.52 335.63L427.42 332.73M439.14 332.50L442.04 335.40M439.14 335.40L442.04 332.50M409.68 334.73L412.58 337.63M409.68 337.63L412.58 334.73M423.30 337.97L426.20 340.87M423.30 340.87L426.20 337.97M446.63 333.13L449.53 336.03M446.63 336.03L449.53 333.13M416.41 335.09L419.31 337.99M416.41 337.99L419.31 335.09M418.76 334.54L421.66 337.44M418.76 337.44L421.66 334.54M414.64 336.86L417.54 339.76M414.64 339.76L417.54 336.86M442.57 336.27L445.47 339.17M442.57 339.17L445.47 336.27M432.25 337.10L435.15 340.00M432.25 340.00L435.15 337.10M410.43 337.56L413.33 340.46M410.43 340.46L413.33 337.56M409.34 330.41L412.24 333.31M409.34 333.31L412.24 330.41M418.33 330.89L421.23 333.79M418.33 333.79L421.23 330.89M410.43 334.70L413.33 337.60M410.43 337.60L413.33 334.70M408.52 332.93L411.42 335.83M408.52 335.83L411.42 332.93M413.46 337.57L416.36 340.47M413.46 340.47L416.36 337.57M407.82 333.88L410.72 336.78M407.82 336.78L410.72 333.88M417.19 330.93L420.09 333.83M417.19 333.83L420.09 330.93M412.83 332.64L415.73 335.54M412.83 335.54L415.73 332.64M393.45 348.79L396.35 351.69M393.45 351.69L396.35 348.79M395.34 347.61L398.24 350.51M395.34 350.51L398.24 347.61M394.23 349.47L397.13 352.37M394.23 352.37L397.13 349.47M394.66 343.18L397.56 346.08M394.66 346.08L397.56 343.18M396.28 346.87L399.18 349.77M396.28 349.77L399.18 346.87M398.15 343.27L401.05 346.17M398.15 346.17L401.05 343.27M402.30 344.80L405.20 347.70M402.30 347.70L405.20 344.80M404.15 350.05L407.05 352.95M404.15 352.95L407.05 350.05M391.65 351.30L394.55 354.20M391.65 354.20L394.55 351.30M395.45 353.80L398.35 356.70M395.45 356.70L398.35 353.80M391.05 356.65L393.95 359.55M391.05 359.55L393.95 356.65M410.80 355.15L413.70 358.05M410.80 358.05L413.70 355.15M392.30 365.45L395.20 368.35M392.30 368.35L395.20 365.45M394.15 367.95L397.05 370.85M394.15 370.85L397.05 367.95M391.65 368.55L394.55 371.45M391.65 371.45L394.55 368.55M401.05 366.05L403.95 368.95M401.05 368.95L403.95 366.05M452.30 344.80L455.20 347.70M452.30 347.70L455.20 344.80M391.65 345.45L394.55 348.35M391.65 348.35L394.55 345.45M396.65 346.65L399.55 349.55M396.65 349.55L399.55 346.65M451.65 344.80L454.55 347.70M451.65 347.70L454.55 344.80M507.30 334.15L510.20 337.05M507.30 337.05L510.20 334.15M387.30 419.05L390.20 421.95M387.30 421.95L390.20 419.05M388.05 506.55L390.95 509.45M388.05 509.45L390.95 506.55M392.25 384.05L395.15 386.95M392.25 386.95L395.15 384.05M395.35 397.05L398.25 399.95M395.35 399.95L398.25 397.05"/><path d="M32.3 32.8V12.5H104" fill="none" stroke="#555555" stroke-width="1"/><rect x="42.2" y="17.099999999999998" width="2.6" height="2.6" fill="#0072BD"/><path fill="none" stroke="#D95319" stroke-width="0.8" d="M42.05 26.35L44.95 29.25M42.05 29.25L44.95 26.35"/><text class="lg" x="54.6" y="21.4">Infected</text><text class="lg" x="54.6" y="30.8">Non-infected</text><path d="M379.7 32.8V12.4H451.9" fill="none" stroke="#555555" stroke-width="1"/><rect x="390.2" y="16.9" width="2.6" height="2.6" fill="#0072BD"/><path fill="none" stroke="#D95319" stroke-width="0.8" d="M390.05 25.95L392.95 28.85M390.05 28.85L392.95 25.95"/><text class="lg" x="402.8" y="21.2">Infected</text><text class="lg" x="402.8" y="30.4">Non-infected</text><path d="M206 481.5H278V502.5" fill="none" stroke="#555555" stroke-width="1"/><rect x="216.7" y="486.2" width="2.6" height="2.6" fill="#0072BD"/><path fill="none" stroke="#D95319" stroke-width="0.8" d="M216.55 495.05L219.45 497.95M216.55 497.95L219.45 495.05"/><text class="lg" x="228.75" y="490.5">Infected</text><text class="lg" x="228.75" y="499.5">Non-infected</text><path d="M553.25 483V503.75" fill="none" stroke="#555555" stroke-width="1"/><rect x="563.2" y="486.95" width="2.6" height="2.6" fill="#0072BD"/><path fill="none" stroke="#D95319" stroke-width="0.8" d="M563.05 496.55L565.95 499.45M563.05 499.45L565.95 496.55"/><text class="lg" x="575.75" y="491.25">Infected</text><text class="lg" x="575.75" y="501">Non-infected</text></g>
<g class="c"><text x="148.5" y="261.5" text-anchor="middle">(a)&#160;&#160;TCK</text><text x="496.5" y="261.5" text-anchor="middle">(b)&#160;&#160;LPS</text><text x="149" y="560.4" text-anchor="middle">(c)&#160;&#160;GAK</text><text x="496.5" y="560.4" text-anchor="middle">(d)&#160;&#160;Linear kernel</text></g>
</svg></body></html>
